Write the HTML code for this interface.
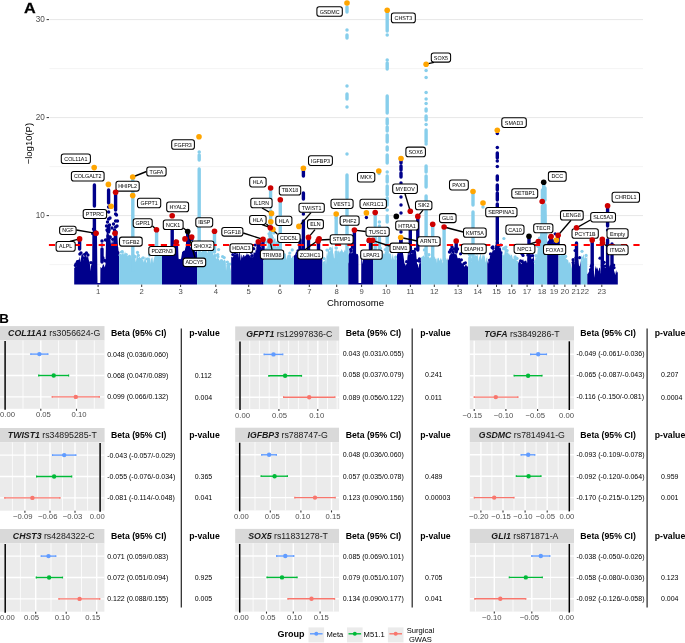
<!DOCTYPE html>
<html><head><meta charset="utf-8"><style>
html,body{margin:0;padding:0;background:#fff;width:685px;height:643px;overflow:hidden}
svg{display:block;font-family:"Liberation Sans", sans-serif}
svg{will-change:transform}
</style></head><body>
<svg width="685" height="643" viewBox="0 0 685 643">
<line x1="49.5" x2="643" y1="264.6" y2="264.6" stroke="#EDEDED" stroke-width="0.6"/>
<line x1="49.5" x2="643" y1="166.6" y2="166.6" stroke="#EDEDED" stroke-width="0.6"/>
<line x1="49.5" x2="643" y1="68.6" y2="68.6" stroke="#EDEDED" stroke-width="0.6"/>
<line x1="49.5" x2="643" y1="215.6" y2="215.6" stroke="#E4E4E4" stroke-width="0.9"/>
<line x1="46.6" x2="49" y1="215.6" y2="215.6" stroke="#333" stroke-width="1"/>
<text x="44.9" y="218.4" text-anchor="end" font-size="8.2" fill="#4D4D4D">10</text>
<line x1="49.5" x2="643" y1="117.6" y2="117.6" stroke="#E4E4E4" stroke-width="0.9"/>
<line x1="46.6" x2="49" y1="117.6" y2="117.6" stroke="#333" stroke-width="1"/>
<text x="44.9" y="120.4" text-anchor="end" font-size="8.2" fill="#4D4D4D">20</text>
<line x1="49.5" x2="643" y1="19.6" y2="19.6" stroke="#E4E4E4" stroke-width="0.9"/>
<line x1="46.6" x2="49" y1="19.6" y2="19.6" stroke="#333" stroke-width="1"/>
<text x="44.9" y="22.4" text-anchor="end" font-size="8.2" fill="#4D4D4D">30</text>
<polygon points="74.2,284.6 74.2,267.7 75.0,267.4 75.8,265.0 76.0,267.3 76.6,264.6 77.4,263.6 77.5,260.6 78.2,259.5 79.0,260.1 79.8,256.9 80.0,257.0 80.6,262.6 81.4,254.9 82.2,254.4 83.0,254.0 83.8,260.6 84.6,256.7 85.4,254.8 86.2,255.4 87.0,257.7 87.8,255.3 88.0,255.7 88.6,259.3 89.4,262.0 89.5,261.1 90.2,266.2 90.5,271.3 91.0,266.0 91.8,263.5 92.3,261.2 92.5,232.7 92.6,234.2 93.4,230.7 94.2,228.2 95.0,232.8 95.8,234.4 96.6,231.8 97.0,233.4 97.3,265.7 97.4,275.6 97.5,283.0 98.2,283.0 99.0,283.0 99.8,283.0 100.3,283.0 100.4,268.0 100.6,266.8 101.4,268.3 102.2,267.1 103.0,264.3 103.8,264.8 104.6,267.4 105.4,264.3 105.5,267.1 106.0,240.2 106.2,238.6 107.0,229.8 107.8,233.1 108.6,234.2 109.4,236.5 110.0,240.1 110.2,237.7 111.0,245.8 111.8,241.0 112.6,241.2 113.0,246.2 113.4,238.2 114.0,235.7 114.2,235.5 115.0,234.3 115.8,236.9 116.6,236.3 117.0,234.4 117.4,239.6 118.0,246.9 118.2,247.0 119.0,256.4 119.1,253.7 119.1,252.0 119.1,284.6" fill="#00008B"/>
<circle cx="75.4" cy="265.4" r="1.6" fill="#00008B"/>
<circle cx="76.0" cy="263.8" r="1.6" fill="#00008B"/>
<circle cx="76.6" cy="264.0" r="1.6" fill="#00008B"/>
<circle cx="77.4" cy="261.7" r="1.6" fill="#00008B"/>
<circle cx="79.8" cy="254.1" r="1.6" fill="#00008B"/>
<circle cx="84.6" cy="254.3" r="1.6" fill="#00008B"/>
<circle cx="88.0" cy="254.9" r="1.6" fill="#00008B"/>
<circle cx="91.0" cy="262.6" r="1.6" fill="#00008B"/>
<circle cx="92.6" cy="233.6" r="1.6" fill="#00008B"/>
<circle cx="93.4" cy="229.1" r="1.6" fill="#00008B"/>
<circle cx="95.0" cy="232.2" r="1.6" fill="#00008B"/>
<circle cx="95.0" cy="216.9" r="1.6" fill="#00008B"/>
<circle cx="95.8" cy="231.9" r="1.6" fill="#00008B"/>
<circle cx="103.0" cy="257.9" r="1.6" fill="#00008B"/>
<circle cx="104.6" cy="260.4" r="1.6" fill="#00008B"/>
<circle cx="105.4" cy="261.1" r="1.6" fill="#00008B"/>
<circle cx="107.8" cy="231.3" r="1.6" fill="#00008B"/>
<circle cx="110.0" cy="237.5" r="1.6" fill="#00008B"/>
<circle cx="110.2" cy="236.8" r="1.6" fill="#00008B"/>
<circle cx="111.0" cy="245.1" r="1.6" fill="#00008B"/>
<circle cx="112.6" cy="239.3" r="1.6" fill="#00008B"/>
<circle cx="113.0" cy="244.9" r="1.6" fill="#00008B"/>
<circle cx="114.2" cy="233.6" r="1.6" fill="#00008B"/>
<circle cx="117.9" cy="252.7" r="1.6" fill="#00008B"/>
<polygon points="119.1,284.6 119.1,256.9 119.9,256.5 120.7,254.7 121.0,253.7 121.5,255.1 122.3,253.8 123.1,251.6 123.9,254.7 124.7,251.8 125.0,255.2 125.5,251.1 126.0,255.3 126.3,255.6 127.1,256.2 127.9,255.5 128.7,257.3 129.5,257.5 130.0,257.6 130.3,256.4 131.1,256.5 131.9,259.0 132.7,257.7 133.5,256.3 134.0,257.2 134.3,258.4 135.1,257.5 135.9,262.2 136.7,256.0 137.5,255.8 138.0,256.8 138.3,257.9 139.1,257.3 139.9,256.2 140.0,258.3 140.7,258.1 141.5,257.0 142.3,259.5 143.0,259.3 143.1,259.3 143.9,262.6 144.7,257.5 145.0,256.6 145.5,257.4 146.3,263.2 147.1,260.2 147.9,257.1 148.7,257.8 149.5,258.4 150.0,256.2 150.3,264.1 151.1,257.2 151.9,259.3 152.0,263.1 152.7,256.0 153.5,263.3 154.0,256.6 154.3,258.4 155.1,254.1 155.9,252.9 156.7,256.2 157.5,258.3 158.3,254.5 159.0,257.2 159.1,257.5 159.9,258.3 160.7,257.6 161.5,254.9 162.0,256.3 162.0,257.0 162.0,284.6" fill="#87CEEB"/>
<circle cx="120.3" cy="255.3" r="1.6" fill="#87CEEB"/>
<circle cx="121.5" cy="252.0" r="1.6" fill="#87CEEB"/>
<circle cx="122.3" cy="251.7" r="1.6" fill="#87CEEB"/>
<circle cx="126.3" cy="254.5" r="1.6" fill="#87CEEB"/>
<circle cx="129.5" cy="256.4" r="1.6" fill="#87CEEB"/>
<circle cx="134.0" cy="256.1" r="1.6" fill="#87CEEB"/>
<circle cx="134.3" cy="256.4" r="1.6" fill="#87CEEB"/>
<circle cx="135.1" cy="256.8" r="1.6" fill="#87CEEB"/>
<circle cx="137.5" cy="252.4" r="1.6" fill="#87CEEB"/>
<circle cx="138.3" cy="255.3" r="1.6" fill="#87CEEB"/>
<circle cx="139.9" cy="242.8" r="1.6" fill="#87CEEB"/>
<circle cx="143.1" cy="257.8" r="1.6" fill="#87CEEB"/>
<circle cx="147.1" cy="259.0" r="1.6" fill="#87CEEB"/>
<circle cx="149.5" cy="255.1" r="1.6" fill="#87CEEB"/>
<circle cx="151.9" cy="253.5" r="1.6" fill="#87CEEB"/>
<circle cx="155.1" cy="253.4" r="1.6" fill="#87CEEB"/>
<circle cx="159.1" cy="256.3" r="1.6" fill="#87CEEB"/>
<circle cx="159.9" cy="257.6" r="1.6" fill="#87CEEB"/>
<circle cx="160.7" cy="255.4" r="1.6" fill="#87CEEB"/>
<polygon points="162.0,284.6 162.0,251.8 162.8,252.4 163.6,253.0 164.4,253.7 165.2,253.0 166.0,250.8 166.8,251.8 167.6,254.4 168.4,252.9 169.2,251.2 170.0,253.3 170.8,252.3 171.6,251.3 172.4,250.7 173.0,251.8 173.2,250.6 174.0,243.8 174.8,242.0 175.6,238.8 176.4,242.7 177.2,243.2 178.0,244.1 178.5,257.5 178.8,259.2 179.6,258.9 180.4,259.3 181.0,258.7 181.2,257.9 182.0,253.3 182.8,251.7 183.6,253.5 184.4,252.9 185.0,249.4 185.2,248.4 186.0,245.7 186.8,245.5 187.6,246.7 188.4,244.7 189.2,246.6 190.0,247.1 190.8,247.7 191.0,245.1 191.6,249.6 192.0,251.6 192.4,252.9 193.2,248.7 194.0,251.1 194.8,250.4 195.6,252.3 196.4,250.7 197.0,251.9 197.0,252.0 197.0,284.6" fill="#00008B"/>
<circle cx="163.2" cy="248.9" r="1.6" fill="#00008B"/>
<circle cx="165.2" cy="249.9" r="1.6" fill="#00008B"/>
<circle cx="166.8" cy="249.3" r="1.6" fill="#00008B"/>
<circle cx="172.4" cy="248.5" r="1.6" fill="#00008B"/>
<circle cx="173.2" cy="242.0" r="1.6" fill="#00008B"/>
<circle cx="183.6" cy="252.8" r="1.6" fill="#00008B"/>
<circle cx="184.4" cy="252.1" r="1.6" fill="#00008B"/>
<circle cx="190.0" cy="239.8" r="1.6" fill="#00008B"/>
<circle cx="192.0" cy="248.8" r="1.6" fill="#00008B"/>
<circle cx="192.0" cy="239.4" r="1.6" fill="#00008B"/>
<circle cx="192.4" cy="251.6" r="1.6" fill="#00008B"/>
<circle cx="195.6" cy="249.3" r="1.6" fill="#00008B"/>
<polygon points="197.0,284.6 197.0,256.3 197.8,253.7 198.6,255.2 199.4,252.9 200.0,253.7 200.2,254.0 201.0,252.1 201.8,251.5 202.6,249.9 203.4,250.6 204.0,247.1 204.2,250.2 205.0,251.5 205.8,248.1 206.6,251.0 207.4,253.3 208.0,249.5 208.2,248.2 209.0,249.2 209.8,251.9 210.6,248.9 211.4,248.7 212.0,249.8 212.2,249.4 213.0,252.7 213.8,255.7 214.0,253.0 214.6,254.1 215.4,256.1 216.2,258.5 217.0,258.5 217.8,256.4 218.0,258.8 218.6,258.0 219.4,260.7 220.2,259.5 221.0,259.2 221.8,259.1 222.0,259.6 222.6,259.2 223.4,260.9 224.2,259.4 225.0,260.0 225.8,261.6 226.0,271.0 226.6,264.1 227.4,264.9 228.2,265.6 229.0,262.5 229.8,264.1 230.6,271.0 231.2,265.4 231.2,265.0 231.2,284.6" fill="#87CEEB"/>
<circle cx="198.6" cy="227.5" r="1.6" fill="#87CEEB"/>
<circle cx="204.0" cy="245.4" r="1.6" fill="#87CEEB"/>
<circle cx="215.4" cy="255.5" r="1.6" fill="#87CEEB"/>
<circle cx="217.8" cy="254.5" r="1.6" fill="#87CEEB"/>
<circle cx="218.0" cy="256.7" r="1.6" fill="#87CEEB"/>
<circle cx="218.6" cy="249.6" r="1.6" fill="#87CEEB"/>
<circle cx="222.6" cy="256.6" r="1.6" fill="#87CEEB"/>
<circle cx="224.2" cy="257.6" r="1.6" fill="#87CEEB"/>
<circle cx="227.4" cy="262.0" r="1.6" fill="#87CEEB"/>
<circle cx="228.2" cy="264.3" r="1.6" fill="#87CEEB"/>
<circle cx="230.0" cy="264.0" r="1.6" fill="#87CEEB"/>
<polygon points="231.2,284.6 231.2,257.3 232.0,256.6 232.8,257.8 233.6,254.9 234.4,254.5 235.0,253.8 235.2,254.2 236.0,254.5 236.8,253.5 237.6,253.3 238.4,253.6 239.0,258.0 239.2,249.3 240.0,253.0 240.8,260.7 241.6,254.2 242.4,256.7 243.0,257.9 243.2,255.1 244.0,254.9 244.8,256.8 245.6,255.5 246.4,255.1 247.0,252.6 247.2,253.7 248.0,255.3 248.8,254.0 249.6,255.9 250.4,255.1 251.0,257.8 251.2,255.8 252.0,257.4 252.8,260.2 253.6,252.2 254.0,252.4 254.4,252.5 255.2,253.0 256.0,247.7 256.8,250.3 257.6,251.7 258.0,249.9 258.4,248.8 259.2,250.7 260.0,247.0 260.8,246.0 261.6,249.3 262.4,250.7 263.2,251.0 263.4,248.4 263.4,249.0 263.4,284.6" fill="#00008B"/>
<circle cx="232.8" cy="254.6" r="1.6" fill="#00008B"/>
<circle cx="235.2" cy="253.0" r="1.6" fill="#00008B"/>
<circle cx="245.6" cy="247.2" r="1.6" fill="#00008B"/>
<circle cx="248.8" cy="250.0" r="1.6" fill="#00008B"/>
<circle cx="251.2" cy="252.3" r="1.6" fill="#00008B"/>
<circle cx="251.2" cy="249.4" r="1.6" fill="#00008B"/>
<circle cx="252.0" cy="255.6" r="1.6" fill="#00008B"/>
<circle cx="252.8" cy="258.5" r="1.6" fill="#00008B"/>
<circle cx="253.6" cy="248.7" r="1.6" fill="#00008B"/>
<circle cx="255.2" cy="245.0" r="1.6" fill="#00008B"/>
<circle cx="258.0" cy="247.7" r="1.6" fill="#00008B"/>
<circle cx="260.0" cy="244.5" r="1.6" fill="#00008B"/>
<circle cx="260.8" cy="244.8" r="1.6" fill="#00008B"/>
<circle cx="262.2" cy="249.5" r="1.6" fill="#00008B"/>
<polygon points="263.4,284.6 263.4,262.0 264.2,261.2 265.0,255.1 265.8,253.6 266.0,254.0 266.6,250.0 267.4,246.8 268.2,242.1 268.5,240.0 269.0,235.4 269.8,237.6 270.6,239.2 271.4,238.2 272.2,239.3 273.0,241.3 273.8,237.8 274.6,238.8 275.4,238.4 275.5,238.8 276.0,247.0 276.2,247.9 277.0,244.9 277.8,248.8 278.6,246.0 279.4,247.2 280.2,247.6 281.0,246.9 281.8,253.9 282.0,253.1 282.6,254.2 283.4,253.9 284.2,255.3 285.0,254.1 285.8,254.4 286.6,260.1 287.4,255.3 288.0,257.5 288.2,256.2 289.0,257.7 289.8,255.2 290.6,255.0 291.0,256.1 291.4,261.1 292.2,255.8 293.0,257.3 293.8,257.5 294.0,260.4 294.0,258.0 294.0,284.6" fill="#87CEEB"/>
<circle cx="264.6" cy="261.1" r="1.6" fill="#87CEEB"/>
<circle cx="266.6" cy="249.4" r="1.6" fill="#87CEEB"/>
<circle cx="266.6" cy="242.2" r="1.6" fill="#87CEEB"/>
<circle cx="268.2" cy="239.5" r="1.6" fill="#87CEEB"/>
<circle cx="269.0" cy="233.8" r="1.6" fill="#87CEEB"/>
<circle cx="269.8" cy="235.9" r="1.6" fill="#87CEEB"/>
<circle cx="271.4" cy="235.9" r="1.6" fill="#87CEEB"/>
<circle cx="272.2" cy="237.6" r="1.6" fill="#87CEEB"/>
<circle cx="273.8" cy="232.9" r="1.6" fill="#87CEEB"/>
<circle cx="277.0" cy="242.8" r="1.6" fill="#87CEEB"/>
<circle cx="277.8" cy="247.7" r="1.6" fill="#87CEEB"/>
<circle cx="278.6" cy="243.8" r="1.6" fill="#87CEEB"/>
<circle cx="284.2" cy="254.6" r="1.6" fill="#87CEEB"/>
<circle cx="289.0" cy="256.1" r="1.6" fill="#87CEEB"/>
<circle cx="289.8" cy="253.0" r="1.6" fill="#87CEEB"/>
<circle cx="291.4" cy="259.7" r="1.6" fill="#87CEEB"/>
<circle cx="292.2" cy="249.9" r="1.6" fill="#87CEEB"/>
<polygon points="294.0,284.6 294.0,257.7 294.8,255.1 295.6,253.8 296.4,254.4 297.2,253.9 298.0,252.8 298.8,255.6 299.6,253.3 300.4,252.4 301.2,252.7 302.0,250.6 302.8,253.7 303.6,258.6 304.4,254.0 305.2,254.4 306.0,253.1 306.8,251.8 307.6,253.4 308.4,254.7 309.2,253.6 310.0,255.5 310.8,253.1 311.6,259.5 312.4,253.9 313.2,253.7 314.0,254.4 314.8,254.6 315.6,254.2 316.4,256.0 317.2,256.0 318.0,255.5 318.8,256.6 319.6,255.8 320.4,256.7 321.2,257.3 322.0,259.3 322.4,259.5 322.4,257.0 322.4,284.6" fill="#00008B"/>
<circle cx="295.2" cy="256.7" r="1.6" fill="#00008B"/>
<circle cx="297.2" cy="253.2" r="1.6" fill="#00008B"/>
<circle cx="298.0" cy="250.9" r="1.6" fill="#00008B"/>
<circle cx="299.6" cy="251.1" r="1.6" fill="#00008B"/>
<circle cx="302.0" cy="249.8" r="1.6" fill="#00008B"/>
<circle cx="303.6" cy="256.5" r="1.6" fill="#00008B"/>
<circle cx="309.2" cy="252.1" r="1.6" fill="#00008B"/>
<circle cx="310.8" cy="251.6" r="1.6" fill="#00008B"/>
<circle cx="320.4" cy="254.3" r="1.6" fill="#00008B"/>
<polygon points="322.4,284.6 322.4,259.5 323.2,261.8 324.0,261.6 324.8,260.4 325.6,257.5 326.0,264.9 326.4,256.7 327.0,251.7 327.2,256.3 328.0,250.1 328.8,248.8 329.6,252.0 330.4,250.2 331.2,249.6 332.0,249.0 332.8,245.1 333.0,252.5 333.6,254.5 334.0,258.2 334.4,258.4 335.2,257.0 336.0,257.0 336.8,259.3 337.0,257.3 337.6,255.7 338.0,250.5 338.4,250.4 339.2,252.7 340.0,250.6 340.8,251.7 341.6,249.0 342.4,250.6 343.2,252.5 344.0,251.8 344.8,249.6 345.6,251.0 346.0,251.1 346.4,248.9 347.2,256.9 348.0,255.6 348.3,256.6 348.3,258.0 348.3,284.6" fill="#87CEEB"/>
<circle cx="324.0" cy="258.5" r="1.6" fill="#87CEEB"/>
<circle cx="327.0" cy="250.1" r="1.6" fill="#87CEEB"/>
<circle cx="330.4" cy="248.7" r="1.6" fill="#87CEEB"/>
<circle cx="337.0" cy="255.5" r="1.6" fill="#87CEEB"/>
<polygon points="348.3,284.6 348.3,254.9 349.1,253.8 349.9,251.6 350.7,251.2 351.0,253.9 351.5,252.1 352.3,253.1 353.0,251.4 353.1,248.7 353.9,252.5 354.7,250.1 355.5,252.8 356.0,252.5 356.3,254.0 357.1,254.2 357.9,253.9 358.4,256.7 358.5,283.0 358.7,283.0 359.5,283.0 360.3,283.0 361.1,283.0 361.2,283.0 361.3,255.4 361.9,257.8 362.7,264.2 363.5,255.3 364.0,255.5 364.3,257.6 365.1,255.8 365.9,251.9 366.7,252.1 367.5,250.2 368.0,251.7 368.3,259.3 369.1,252.5 369.9,257.9 370.7,251.9 371.5,257.2 372.0,248.4 372.3,252.3 373.1,254.4 373.3,260.7 373.3,256.0 373.3,284.6" fill="#00008B"/>
<circle cx="350.7" cy="249.3" r="1.6" fill="#00008B"/>
<circle cx="351.0" cy="250.9" r="1.6" fill="#00008B"/>
<circle cx="352.3" cy="246.9" r="1.6" fill="#00008B"/>
<circle cx="353.1" cy="247.3" r="1.6" fill="#00008B"/>
<circle cx="353.9" cy="250.7" r="1.6" fill="#00008B"/>
<circle cx="361.9" cy="256.1" r="1.6" fill="#00008B"/>
<circle cx="368.3" cy="241.4" r="1.6" fill="#00008B"/>
<circle cx="370.7" cy="250.5" r="1.6" fill="#00008B"/>
<polygon points="373.3,284.6 373.3,258.3 374.1,255.7 374.9,255.3 375.7,255.8 376.5,256.1 377.0,256.3 377.3,255.8 378.1,255.0 378.9,255.7 379.7,255.4 380.5,251.0 381.0,254.8 381.3,253.7 382.1,254.8 382.9,254.4 383.7,252.9 384.5,254.3 385.0,250.6 385.3,251.6 386.1,251.9 386.9,254.4 387.7,254.1 388.5,254.5 389.0,253.0 389.3,253.1 390.1,254.3 390.9,252.9 391.7,259.9 392.5,254.5 393.0,253.8 393.3,257.1 394.1,260.2 394.9,255.7 395.7,255.8 396.5,258.4 397.0,260.3 397.0,258.0 397.0,284.6" fill="#87CEEB"/>
<circle cx="380.5" cy="248.4" r="1.6" fill="#87CEEB"/>
<circle cx="381.0" cy="251.5" r="1.6" fill="#87CEEB"/>
<circle cx="385.3" cy="249.6" r="1.6" fill="#87CEEB"/>
<circle cx="393.0" cy="251.6" r="1.6" fill="#87CEEB"/>
<circle cx="395.8" cy="257.0" r="1.6" fill="#87CEEB"/>
<polygon points="397.0,284.6 397.0,254.9 397.8,252.6 398.6,248.6 399.0,254.4 399.4,250.3 400.2,250.7 401.0,250.8 401.8,247.6 402.0,249.6 402.6,251.4 403.4,255.5 404.2,261.3 404.5,263.5 405.0,263.7 405.8,265.7 406.6,263.5 407.0,263.9 407.4,257.8 408.0,252.7 408.2,252.3 409.0,255.4 409.8,251.8 410.6,251.5 411.0,248.0 411.4,254.0 412.2,252.7 413.0,253.5 413.8,251.5 414.6,247.2 415.4,250.5 416.0,251.7 416.2,254.1 417.0,263.4 417.8,264.6 418.6,268.2 419.4,262.6 420.0,264.0 420.2,262.9 421.0,259.7 421.2,257.4 421.2,258.0 421.2,284.6" fill="#00008B"/>
<circle cx="398.2" cy="246.6" r="1.6" fill="#00008B"/>
<circle cx="399.0" cy="245.8" r="1.6" fill="#00008B"/>
<circle cx="400.2" cy="250.0" r="1.6" fill="#00008B"/>
<circle cx="406.6" cy="261.7" r="1.6" fill="#00008B"/>
<circle cx="409.0" cy="252.1" r="1.6" fill="#00008B"/>
<circle cx="410.6" cy="248.8" r="1.6" fill="#00008B"/>
<circle cx="412.2" cy="251.7" r="1.6" fill="#00008B"/>
<circle cx="413.0" cy="251.4" r="1.6" fill="#00008B"/>
<circle cx="415.4" cy="249.0" r="1.6" fill="#00008B"/>
<circle cx="417.0" cy="260.6" r="1.6" fill="#00008B"/>
<circle cx="419.4" cy="261.2" r="1.6" fill="#00008B"/>
<circle cx="419.4" cy="258.9" r="1.6" fill="#00008B"/>
<polygon points="421.2,284.6 421.2,257.2 422.0,256.8 422.8,256.3 423.6,255.3 424.4,256.9 425.0,256.8 425.2,253.5 426.0,256.3 426.8,257.7 427.6,256.2 428.4,256.4 429.0,255.9 429.2,258.4 430.0,257.3 430.8,257.8 431.6,254.6 432.4,256.9 433.0,254.8 433.2,258.1 434.0,258.0 434.8,256.2 435.6,259.3 436.4,258.2 437.0,263.3 437.2,259.3 438.0,257.5 438.8,258.3 439.6,261.0 440.4,258.7 441.0,257.6 441.2,260.4 442.0,258.2 442.8,263.6 443.6,258.5 444.4,257.1 445.0,258.7 445.2,257.6 446.0,258.0 446.8,260.0 447.6,259.6 447.8,260.3 447.8,260.0 447.8,284.6" fill="#87CEEB"/>
<circle cx="424.4" cy="249.9" r="1.6" fill="#87CEEB"/>
<circle cx="426.0" cy="253.4" r="1.6" fill="#87CEEB"/>
<circle cx="429.0" cy="254.7" r="1.6" fill="#87CEEB"/>
<polygon points="447.8,284.6 447.8,258.3 448.6,260.6 449.4,255.3 450.2,255.0 451.0,252.0 451.8,253.4 452.6,253.9 453.4,250.3 454.2,253.1 455.0,254.3 455.8,254.1 456.6,254.3 457.4,257.4 458.0,258.4 458.2,257.7 459.0,258.5 459.8,257.8 460.6,259.3 461.0,259.5 461.4,263.0 462.2,263.4 463.0,264.0 463.8,263.2 464.0,266.4 464.6,266.6 465.4,265.2 466.2,264.7 467.0,266.4 467.8,266.6 468.1,264.8 468.1,266.0 468.1,284.6" fill="#00008B"/>
<circle cx="451.0" cy="250.1" r="1.6" fill="#00008B"/>
<circle cx="451.0" cy="249.6" r="1.6" fill="#00008B"/>
<circle cx="451.8" cy="250.0" r="1.6" fill="#00008B"/>
<circle cx="460.6" cy="253.8" r="1.6" fill="#00008B"/>
<circle cx="461.4" cy="259.8" r="1.6" fill="#00008B"/>
<circle cx="464.0" cy="263.6" r="1.6" fill="#00008B"/>
<circle cx="465.4" cy="262.8" r="1.6" fill="#00008B"/>
<polygon points="468.1,284.6 468.1,257.8 468.9,256.2 469.7,254.9 470.5,254.0 471.3,253.9 472.0,262.2 472.1,256.0 472.9,255.7 473.7,253.4 474.5,256.4 475.3,255.8 476.0,253.9 476.1,256.0 476.9,255.6 477.7,255.1 478.5,261.5 479.3,256.8 480.0,256.2 480.1,254.6 480.9,254.3 481.7,259.7 482.5,254.8 483.3,255.7 484.0,254.5 484.1,254.5 484.9,256.9 485.7,262.7 486.5,258.1 487.3,257.3 487.3,257.0 487.3,284.6" fill="#87CEEB"/>
<circle cx="469.3" cy="254.6" r="1.6" fill="#87CEEB"/>
<circle cx="470.5" cy="253.2" r="1.6" fill="#87CEEB"/>
<circle cx="472.0" cy="259.6" r="1.6" fill="#87CEEB"/>
<circle cx="472.1" cy="254.1" r="1.6" fill="#87CEEB"/>
<circle cx="476.9" cy="253.0" r="1.6" fill="#87CEEB"/>
<circle cx="484.9" cy="250.0" r="1.6" fill="#87CEEB"/>
<polygon points="487.3,284.6 487.3,260.5 488.1,263.8 488.9,258.8 489.7,261.7 490.0,252.9 490.5,255.8 491.3,252.8 492.1,252.6 492.9,249.6 493.0,250.7 493.7,250.0 494.5,252.3 495.0,248.3 495.3,245.2 496.1,244.7 496.9,245.5 497.7,248.4 498.5,247.2 499.0,247.9 499.3,247.6 500.1,246.9 500.9,248.5 501.0,249.1 501.7,253.7 502.3,255.5 502.3,256.0 502.3,284.6" fill="#00008B"/>
<circle cx="489.7" cy="260.1" r="1.6" fill="#00008B"/>
<circle cx="490.5" cy="253.9" r="1.6" fill="#00008B"/>
<circle cx="492.1" cy="247.6" r="1.6" fill="#00008B"/>
<circle cx="492.9" cy="246.8" r="1.6" fill="#00008B"/>
<circle cx="493.0" cy="248.3" r="1.6" fill="#00008B"/>
<circle cx="494.5" cy="251.7" r="1.6" fill="#00008B"/>
<circle cx="498.5" cy="246.1" r="1.6" fill="#00008B"/>
<circle cx="500.9" cy="245.0" r="1.6" fill="#00008B"/>
<circle cx="501.1" cy="252.8" r="1.6" fill="#00008B"/>
<polygon points="502.3,284.6 502.3,250.6 503.1,253.5 503.9,257.4 504.7,250.8 505.5,250.6 506.0,248.0 506.3,251.2 507.1,252.9 507.9,251.5 508.7,254.0 509.5,255.1 510.0,252.7 510.3,255.9 511.1,254.9 511.9,254.4 512.7,258.4 513.5,259.1 514.0,256.1 514.3,256.7 515.1,258.7 515.9,257.9 516.7,260.8 517.5,261.0 518.2,261.1 518.2,260.0 518.2,284.6" fill="#87CEEB"/>
<circle cx="503.5" cy="248.7" r="1.6" fill="#87CEEB"/>
<circle cx="503.9" cy="256.8" r="1.6" fill="#87CEEB"/>
<circle cx="503.9" cy="238.5" r="1.6" fill="#87CEEB"/>
<circle cx="504.7" cy="247.8" r="1.6" fill="#87CEEB"/>
<circle cx="505.5" cy="249.3" r="1.6" fill="#87CEEB"/>
<circle cx="506.0" cy="247.0" r="1.6" fill="#87CEEB"/>
<circle cx="507.1" cy="250.6" r="1.6" fill="#87CEEB"/>
<circle cx="515.1" cy="256.9" r="1.6" fill="#87CEEB"/>
<circle cx="516.7" cy="258.7" r="1.6" fill="#87CEEB"/>
<circle cx="517.0" cy="258.4" r="1.6" fill="#87CEEB"/>
<polygon points="518.2,284.6 518.2,263.4 519.0,261.3 519.8,261.5 520.6,263.1 521.4,264.2 522.0,262.4 522.2,261.2 523.0,258.7 523.8,262.0 524.6,261.1 525.4,260.6 526.0,261.0 526.2,260.5 527.0,263.2 527.8,257.3 528.6,260.0 529.4,259.9 530.0,258.1 530.2,256.8 531.0,257.6 531.8,259.2 532.6,258.6 533.4,254.9 534.1,259.4 534.1,260.0 534.1,284.6" fill="#00008B"/>
<circle cx="520.6" cy="260.8" r="1.6" fill="#00008B"/>
<circle cx="522.0" cy="261.6" r="1.6" fill="#00008B"/>
<circle cx="522.0" cy="253.9" r="1.6" fill="#00008B"/>
<circle cx="523.0" cy="255.4" r="1.6" fill="#00008B"/>
<circle cx="527.8" cy="255.0" r="1.6" fill="#00008B"/>
<circle cx="531.0" cy="255.8" r="1.6" fill="#00008B"/>
<circle cx="532.6" cy="255.5" r="1.6" fill="#00008B"/>
<polygon points="534.1,284.6 534.1,264.6 534.9,263.1 535.7,255.0 536.0,258.2 536.5,256.8 537.3,254.2 538.0,246.8 538.1,249.1 538.9,244.2 539.5,239.0 539.7,238.7 540.5,230.4 541.3,218.5 541.5,217.0 542.1,215.0 542.9,214.9 543.7,216.2 544.5,214.5 545.3,217.2 546.1,210.8 546.5,216.5 546.9,231.4 547.0,236.4 547.2,244.3 547.2,245.0 547.2,284.6" fill="#87CEEB"/>
<circle cx="535.3" cy="261.7" r="1.6" fill="#87CEEB"/>
<circle cx="536.0" cy="255.7" r="1.6" fill="#87CEEB"/>
<circle cx="537.3" cy="245.6" r="1.6" fill="#87CEEB"/>
<circle cx="538.1" cy="246.4" r="1.6" fill="#87CEEB"/>
<circle cx="539.5" cy="238.0" r="1.6" fill="#87CEEB"/>
<circle cx="546.0" cy="230.0" r="1.6" fill="#87CEEB"/>
<circle cx="546.0" cy="234.0" r="1.6" fill="#87CEEB"/>
<circle cx="546.0" cy="243.5" r="1.6" fill="#87CEEB"/>
<polygon points="547.2,284.6 547.2,242.6 548.0,240.9 548.8,240.4 549.0,239.0 549.6,238.9 550.4,240.8 551.2,241.1 552.0,239.1 552.8,241.4 553.0,241.8 553.6,242.5 554.4,241.2 555.2,242.6 556.0,240.9 556.8,243.4 557.6,243.9 558.4,241.5 558.5,253.8 558.5,245.0 558.5,284.6" fill="#00008B"/>
<circle cx="549.6" cy="237.2" r="1.6" fill="#00008B"/>
<circle cx="553.0" cy="240.9" r="1.6" fill="#00008B"/>
<circle cx="555.2" cy="233.8" r="1.6" fill="#00008B"/>
<polygon points="558.5,284.6 558.5,256.4 559.3,253.3 560.1,256.1 560.9,253.5 561.7,254.2 562.0,254.3 562.5,255.3 563.3,253.9 564.1,254.7 564.9,255.9 565.7,256.9 566.0,259.4 566.5,258.4 567.3,259.8 568.1,260.0 568.9,263.8 569.7,261.7 570.5,263.6 571.3,266.4 571.9,268.8 571.9,265.0 571.9,284.6" fill="#87CEEB"/>
<circle cx="559.7" cy="253.6" r="1.6" fill="#87CEEB"/>
<circle cx="559.7" cy="252.3" r="1.6" fill="#87CEEB"/>
<circle cx="562.5" cy="254.6" r="1.6" fill="#87CEEB"/>
<circle cx="563.3" cy="252.2" r="1.6" fill="#87CEEB"/>
<circle cx="565.7" cy="256.4" r="1.6" fill="#87CEEB"/>
<polygon points="571.9,284.6 571.9,263.8 572.7,260.4 573.5,260.0 574.3,264.4 575.0,256.7 575.1,253.7 575.9,258.6 576.7,258.5 577.5,259.7 578.0,259.2 578.3,259.0 579.1,266.5 579.9,265.6 580.7,260.9 580.8,261.7 580.8,262.0 580.8,284.6" fill="#00008B"/>
<circle cx="573.1" cy="262.5" r="1.6" fill="#00008B"/>
<circle cx="573.1" cy="259.7" r="1.6" fill="#00008B"/>
<circle cx="575.1" cy="250.5" r="1.6" fill="#00008B"/>
<circle cx="575.9" cy="257.8" r="1.6" fill="#00008B"/>
<circle cx="579.6" cy="257.7" r="1.6" fill="#00008B"/>
<polygon points="580.8,284.6 580.8,259.0 581.6,254.6 582.4,261.3 583.2,254.0 584.0,256.1 584.8,258.7 585.6,256.4 586.4,258.4 587.2,256.5 587.3,256.7 587.3,258.0 587.3,284.6" fill="#87CEEB"/>
<circle cx="582.0" cy="251.3" r="1.6" fill="#87CEEB"/>
<circle cx="582.4" cy="258.1" r="1.6" fill="#87CEEB"/>
<circle cx="586.1" cy="255.4" r="1.6" fill="#87CEEB"/>
<polygon points="587.3,284.6 587.3,274.1 588.1,273.5 588.9,271.8 589.7,270.6 590.5,270.9 591.0,270.2 591.3,268.9 592.1,267.2 592.9,271.4 593.7,270.6 594.5,277.7 595.0,270.3 595.3,265.5 596.1,269.3 596.9,267.1 597.7,268.8 598.5,271.6 599.3,267.5 600.0,268.5 600.1,268.0 600.9,273.7 601.7,268.3 602.5,267.1 603.3,267.4 604.1,264.6 604.9,267.8 605.0,267.4 605.7,268.0 606.5,265.9 607.3,268.2 608.1,267.6 608.9,268.1 609.7,266.2 610.0,265.5 610.5,264.4 611.3,266.3 612.1,269.7 612.9,268.1 613.7,268.4 614.0,270.6 614.5,272.0 615.3,275.1 616.1,270.1 616.9,273.1 617.7,271.6 617.8,273.6 617.8,272.0 617.8,284.6" fill="#00008B"/>
<circle cx="590.5" cy="269.7" r="1.6" fill="#00008B"/>
<circle cx="591.3" cy="266.2" r="1.6" fill="#00008B"/>
<circle cx="592.1" cy="264.5" r="1.6" fill="#00008B"/>
<circle cx="600.0" cy="258.2" r="1.6" fill="#00008B"/>
<circle cx="602.5" cy="265.6" r="1.6" fill="#00008B"/>
<circle cx="604.1" cy="262.3" r="1.6" fill="#00008B"/>
<circle cx="605.0" cy="266.0" r="1.6" fill="#00008B"/>
<circle cx="608.1" cy="266.7" r="1.6" fill="#00008B"/>
<circle cx="613.7" cy="265.1" r="1.6" fill="#00008B"/>
<circle cx="614.0" cy="267.7" r="1.6" fill="#00008B"/>
<line x1="94.4" x2="94.4" y1="185" y2="206" stroke="#00008B" stroke-width="3.4" stroke-linecap="round"/>
<line x1="94.4" x2="94.4" y1="212" y2="282" stroke="#00008B" stroke-width="3.4" stroke-linecap="round"/>
<line x1="108.6" x2="108.6" y1="190" y2="203" stroke="#00008B" stroke-width="3.4" stroke-linecap="round"/>
<circle cx="108.6" cy="207" r="1.75" fill="#00008B"/>
<circle cx="108.6" cy="212" r="1.75" fill="#00008B"/>
<circle cx="108.6" cy="219" r="1.75" fill="#00008B"/>
<line x1="108.6" x2="108.6" y1="226" y2="232" stroke="#00008B" stroke-width="3.4" stroke-linecap="round"/>
<line x1="108.6" x2="108.6" y1="238" y2="250" stroke="#00008B" stroke-width="3.4" stroke-linecap="round"/>
<line x1="115.6" x2="115.6" y1="192" y2="210" stroke="#00008B" stroke-width="3.4" stroke-linecap="round"/>
<circle cx="115.6" cy="214" r="1.75" fill="#00008B"/>
<circle cx="115.6" cy="221" r="1.75" fill="#00008B"/>
<circle cx="115.6" cy="227" r="1.75" fill="#00008B"/>
<line x1="115.6" x2="115.6" y1="232" y2="250" stroke="#00008B" stroke-width="3.4" stroke-linecap="round"/>
<circle cx="102.0" cy="241" r="1.75" fill="#00008B"/>
<circle cx="102.0" cy="245" r="1.75" fill="#00008B"/>
<line x1="102.0" x2="102.0" y1="249" y2="262" stroke="#00008B" stroke-width="3.4" stroke-linecap="round"/>
<line x1="79.6" x2="79.6" y1="241" y2="249" stroke="#00008B" stroke-width="3.4" stroke-linecap="round"/>
<line x1="132.8" x2="132.8" y1="177" y2="270" stroke="#87CEEB" stroke-width="3.4" stroke-linecap="round"/>
<line x1="156.6" x2="156.6" y1="230" y2="262" stroke="#87CEEB" stroke-width="3.4" stroke-linecap="round"/>
<line x1="172.2" x2="172.2" y1="229" y2="258" stroke="#00008B" stroke-width="3.4" stroke-linecap="round"/>
<line x1="187.7" x2="187.7" y1="232" y2="256" stroke="#00008B" stroke-width="3.4" stroke-linecap="round"/>
<line x1="188.5" x2="188.5" y1="240" y2="256" stroke="#00008B" stroke-width="3.4" stroke-linecap="round"/>
<circle cx="199.2" cy="152" r="1.75" fill="#87CEEB"/>
<line x1="199.2" x2="199.2" y1="155" y2="160" stroke="#87CEEB" stroke-width="3.4" stroke-linecap="round"/>
<line x1="199.2" x2="199.2" y1="169" y2="270" stroke="#87CEEB" stroke-width="3.4" stroke-linecap="round"/>
<line x1="214.5" x2="214.5" y1="231" y2="252" stroke="#87CEEB" stroke-width="3.4" stroke-linecap="round"/>
<line x1="258.3" x2="258.3" y1="242" y2="258" stroke="#00008B" stroke-width="3.4" stroke-linecap="round"/>
<line x1="263.0" x2="263.0" y1="240" y2="258" stroke="#00008B" stroke-width="3.4" stroke-linecap="round"/>
<line x1="270.6" x2="270.6" y1="188" y2="200" stroke="#87CEEB" stroke-width="3.4" stroke-linecap="round"/>
<circle cx="270.6" cy="203" r="1.75" fill="#87CEEB"/>
<circle cx="270.6" cy="207" r="1.75" fill="#87CEEB"/>
<circle cx="270.6" cy="211" r="1.75" fill="#87CEEB"/>
<line x1="270.6" x2="270.6" y1="215" y2="258" stroke="#87CEEB" stroke-width="3.4" stroke-linecap="round"/>
<line x1="280.3" x2="280.3" y1="200" y2="258" stroke="#87CEEB" stroke-width="3.4" stroke-linecap="round"/>
<line x1="303.4" x2="303.4" y1="168" y2="176" stroke="#00008B" stroke-width="3.4" stroke-linecap="round"/>
<line x1="303.4" x2="303.4" y1="193" y2="199" stroke="#00008B" stroke-width="3.4" stroke-linecap="round"/>
<circle cx="303.4" cy="214" r="1.75" fill="#00008B"/>
<line x1="303.4" x2="303.4" y1="221" y2="256" stroke="#00008B" stroke-width="3.4" stroke-linecap="round"/>
<line x1="300.0" x2="300.0" y1="240" y2="256" stroke="#00008B" stroke-width="3.4" stroke-linecap="round"/>
<line x1="308.5" x2="308.5" y1="238" y2="256" stroke="#00008B" stroke-width="3.4" stroke-linecap="round"/>
<line x1="318.5" x2="318.5" y1="239" y2="256" stroke="#00008B" stroke-width="3.4" stroke-linecap="round"/>
<line x1="336.2" x2="336.2" y1="214" y2="240" stroke="#87CEEB" stroke-width="3.4" stroke-linecap="round"/>
<circle cx="336.2" cy="244" r="1.75" fill="#87CEEB"/>
<circle cx="336.2" cy="248" r="1.75" fill="#87CEEB"/>
<line x1="336.2" x2="336.2" y1="252" y2="262" stroke="#87CEEB" stroke-width="3.4" stroke-linecap="round"/>
<circle cx="347.0" cy="3" r="1.75" fill="#87CEEB"/>
<line x1="347.0" x2="347.0" y1="7" y2="12" stroke="#87CEEB" stroke-width="3.4" stroke-linecap="round"/>
<circle cx="347.0" cy="30" r="1.75" fill="#87CEEB"/>
<line x1="347.0" x2="347.0" y1="35" y2="38" stroke="#87CEEB" stroke-width="3.4" stroke-linecap="round"/>
<circle cx="347.0" cy="86" r="1.75" fill="#87CEEB"/>
<line x1="347.0" x2="347.0" y1="94" y2="99" stroke="#87CEEB" stroke-width="3.4" stroke-linecap="round"/>
<circle cx="347.0" cy="107" r="1.75" fill="#87CEEB"/>
<circle cx="347.0" cy="154" r="1.75" fill="#87CEEB"/>
<line x1="347.0" x2="347.0" y1="175" y2="198" stroke="#87CEEB" stroke-width="3.4" stroke-linecap="round"/>
<line x1="347.0" x2="347.0" y1="205" y2="215" stroke="#87CEEB" stroke-width="3.4" stroke-linecap="round"/>
<line x1="347.0" x2="347.0" y1="219" y2="236" stroke="#87CEEB" stroke-width="3.4" stroke-linecap="round"/>
<line x1="347.0" x2="347.0" y1="240" y2="262" stroke="#87CEEB" stroke-width="3.4" stroke-linecap="round"/>
<line x1="354.4" x2="354.4" y1="230" y2="262" stroke="#00008B" stroke-width="3.4" stroke-linecap="round"/>
<line x1="370.5" x2="370.5" y1="240" y2="256" stroke="#00008B" stroke-width="3.4" stroke-linecap="round"/>
<line x1="375.2" x2="375.2" y1="215" y2="226" stroke="#87CEEB" stroke-width="3.4" stroke-linecap="round"/>
<line x1="375.2" x2="375.2" y1="234" y2="260" stroke="#87CEEB" stroke-width="3.4" stroke-linecap="round"/>
<circle cx="379.4" cy="222" r="1.75" fill="#87CEEB"/>
<line x1="379.4" x2="379.4" y1="226" y2="232" stroke="#87CEEB" stroke-width="3.4" stroke-linecap="round"/>
<line x1="379.4" x2="379.4" y1="238" y2="258" stroke="#87CEEB" stroke-width="3.4" stroke-linecap="round"/>
<line x1="387.2" x2="387.2" y1="12" y2="31" stroke="#87CEEB" stroke-width="3.4" stroke-linecap="round"/>
<circle cx="387.2" cy="35" r="1.75" fill="#87CEEB"/>
<circle cx="387.2" cy="60" r="1.75" fill="#87CEEB"/>
<line x1="387.2" x2="387.2" y1="63" y2="69" stroke="#87CEEB" stroke-width="3.4" stroke-linecap="round"/>
<line x1="387.2" x2="387.2" y1="96" y2="113" stroke="#87CEEB" stroke-width="3.4" stroke-linecap="round"/>
<line x1="387.2" x2="387.2" y1="119" y2="124" stroke="#87CEEB" stroke-width="3.4" stroke-linecap="round"/>
<line x1="387.2" x2="387.2" y1="127" y2="131" stroke="#87CEEB" stroke-width="3.4" stroke-linecap="round"/>
<line x1="387.2" x2="387.2" y1="135" y2="142" stroke="#87CEEB" stroke-width="3.4" stroke-linecap="round"/>
<line x1="387.2" x2="387.2" y1="147" y2="150" stroke="#87CEEB" stroke-width="3.4" stroke-linecap="round"/>
<line x1="387.2" x2="387.2" y1="155" y2="163" stroke="#87CEEB" stroke-width="3.4" stroke-linecap="round"/>
<circle cx="387.2" cy="172" r="1.75" fill="#87CEEB"/>
<line x1="387.2" x2="387.2" y1="176" y2="182" stroke="#87CEEB" stroke-width="3.4" stroke-linecap="round"/>
<line x1="387.2" x2="387.2" y1="186" y2="195" stroke="#87CEEB" stroke-width="3.4" stroke-linecap="round"/>
<line x1="387.2" x2="387.2" y1="198" y2="205" stroke="#87CEEB" stroke-width="3.4" stroke-linecap="round"/>
<circle cx="387.2" cy="210" r="1.75" fill="#87CEEB"/>
<line x1="387.2" x2="387.2" y1="216" y2="222" stroke="#87CEEB" stroke-width="3.4" stroke-linecap="round"/>
<circle cx="387.2" cy="228" r="1.75" fill="#87CEEB"/>
<line x1="387.2" x2="387.2" y1="236" y2="258" stroke="#87CEEB" stroke-width="3.4" stroke-linecap="round"/>
<line x1="401.0" x2="401.0" y1="158" y2="163" stroke="#00008B" stroke-width="3.4" stroke-linecap="round"/>
<line x1="401.0" x2="401.0" y1="166" y2="170" stroke="#00008B" stroke-width="3.4" stroke-linecap="round"/>
<line x1="401.0" x2="401.0" y1="173" y2="177" stroke="#00008B" stroke-width="3.4" stroke-linecap="round"/>
<circle cx="401.0" cy="183" r="1.75" fill="#00008B"/>
<circle cx="401.0" cy="197" r="1.75" fill="#00008B"/>
<circle cx="401.0" cy="205" r="1.75" fill="#00008B"/>
<circle cx="401.0" cy="213" r="1.75" fill="#00008B"/>
<circle cx="401.0" cy="232" r="1.75" fill="#00008B"/>
<line x1="401.0" x2="401.0" y1="238" y2="250" stroke="#00008B" stroke-width="3.4" stroke-linecap="round"/>
<line x1="410.3" x2="410.3" y1="230" y2="250" stroke="#00008B" stroke-width="3.4" stroke-linecap="round"/>
<line x1="417.8" x2="417.8" y1="216" y2="250" stroke="#00008B" stroke-width="3.4" stroke-linecap="round"/>
<line x1="400.7" x2="400.7" y1="238" y2="250" stroke="#00008B" stroke-width="3.4" stroke-linecap="round"/>
<circle cx="426.1" cy="64" r="1.75" fill="#87CEEB"/>
<circle cx="426.1" cy="70.5" r="1.75" fill="#87CEEB"/>
<circle cx="426.1" cy="77.6" r="1.75" fill="#87CEEB"/>
<circle cx="426.1" cy="92.4" r="1.75" fill="#87CEEB"/>
<circle cx="426.1" cy="99" r="1.75" fill="#87CEEB"/>
<circle cx="426.1" cy="103.5" r="1.75" fill="#87CEEB"/>
<line x1="426.1" x2="426.1" y1="109" y2="111" stroke="#87CEEB" stroke-width="3.4" stroke-linecap="round"/>
<line x1="426.1" x2="426.1" y1="116" y2="120" stroke="#87CEEB" stroke-width="3.4" stroke-linecap="round"/>
<circle cx="426.1" cy="124.4" r="1.75" fill="#87CEEB"/>
<line x1="426.1" x2="426.1" y1="130" y2="142" stroke="#87CEEB" stroke-width="3.4" stroke-linecap="round"/>
<circle cx="426.1" cy="144" r="1.75" fill="#87CEEB"/>
<line x1="426.1" x2="426.1" y1="166" y2="172" stroke="#87CEEB" stroke-width="3.4" stroke-linecap="round"/>
<line x1="426.1" x2="426.1" y1="176" y2="187" stroke="#87CEEB" stroke-width="3.4" stroke-linecap="round"/>
<line x1="426.1" x2="426.1" y1="196" y2="258" stroke="#87CEEB" stroke-width="3.4" stroke-linecap="round"/>
<line x1="432.7" x2="432.7" y1="224" y2="258" stroke="#87CEEB" stroke-width="3.4" stroke-linecap="round"/>
<line x1="444.1" x2="444.1" y1="227" y2="260" stroke="#87CEEB" stroke-width="3.4" stroke-linecap="round"/>
<line x1="456.2" x2="456.2" y1="241" y2="252" stroke="#00008B" stroke-width="3.4" stroke-linecap="round"/>
<line x1="473.0" x2="473.0" y1="192" y2="205" stroke="#87CEEB" stroke-width="3.4" stroke-linecap="round"/>
<line x1="473.0" x2="473.0" y1="212" y2="256" stroke="#87CEEB" stroke-width="3.4" stroke-linecap="round"/>
<circle cx="483.0" cy="207" r="1.75" fill="#87CEEB"/>
<circle cx="497.3" cy="130" r="1.75" fill="#00008B"/>
<circle cx="497.3" cy="133.6" r="1.75" fill="#00008B"/>
<circle cx="497.3" cy="147.4" r="1.75" fill="#00008B"/>
<line x1="497.3" x2="497.3" y1="153" y2="158" stroke="#00008B" stroke-width="3.4" stroke-linecap="round"/>
<circle cx="497.3" cy="161" r="1.75" fill="#00008B"/>
<circle cx="497.3" cy="166.5" r="1.75" fill="#00008B"/>
<line x1="497.3" x2="497.3" y1="176" y2="180" stroke="#00008B" stroke-width="3.4" stroke-linecap="round"/>
<line x1="497.3" x2="497.3" y1="185" y2="190" stroke="#00008B" stroke-width="3.4" stroke-linecap="round"/>
<line x1="497.3" x2="497.3" y1="193" y2="200" stroke="#00008B" stroke-width="3.4" stroke-linecap="round"/>
<line x1="497.3" x2="497.3" y1="204" y2="240" stroke="#00008B" stroke-width="3.4" stroke-linecap="round"/>
<line x1="497.3" x2="497.3" y1="242" y2="256" stroke="#00008B" stroke-width="3.4" stroke-linecap="round"/>
<line x1="529.0" x2="529.0" y1="236" y2="260" stroke="#00008B" stroke-width="3.4" stroke-linecap="round"/>
<line x1="543.7" x2="543.7" y1="182" y2="258" stroke="#87CEEB" stroke-width="3.4" stroke-linecap="round"/>
<line x1="545.0" x2="545.0" y1="188" y2="200" stroke="#87CEEB" stroke-width="3.4" stroke-linecap="round"/>
<line x1="545.0" x2="545.0" y1="205" y2="258" stroke="#87CEEB" stroke-width="3.4" stroke-linecap="round"/>
<line x1="542.4" x2="542.4" y1="190" y2="198" stroke="#87CEEB" stroke-width="3.4" stroke-linecap="round"/>
<line x1="542.4" x2="542.4" y1="206" y2="258" stroke="#87CEEB" stroke-width="3.4" stroke-linecap="round"/>
<line x1="551.1" x2="551.1" y1="237" y2="248" stroke="#00008B" stroke-width="3.4" stroke-linecap="round"/>
<line x1="558.1" x2="558.1" y1="236" y2="248" stroke="#00008B" stroke-width="3.4" stroke-linecap="round"/>
<line x1="576.5" x2="576.5" y1="243" y2="262" stroke="#00008B" stroke-width="3.4" stroke-linecap="round"/>
<line x1="592.2" x2="592.2" y1="240" y2="272" stroke="#00008B" stroke-width="3.4" stroke-linecap="round"/>
<line x1="602.3" x2="602.3" y1="239" y2="272" stroke="#00008B" stroke-width="3.4" stroke-linecap="round"/>
<line x1="607.6" x2="607.6" y1="206" y2="226" stroke="#00008B" stroke-width="3.4" stroke-linecap="round"/>
<circle cx="607.6" cy="230" r="1.75" fill="#00008B"/>
<line x1="607.6" x2="607.6" y1="240" y2="270" stroke="#00008B" stroke-width="3.4" stroke-linecap="round"/>
<line x1="612.0" x2="612.0" y1="244" y2="272" stroke="#00008B" stroke-width="3.4" stroke-linecap="round"/>
<circle cx="366.4" cy="217.5" r="1.7" fill="#00008B"/>
<circle cx="452" cy="247" r="1.7" fill="#00008B"/>
<circle cx="454" cy="249" r="1.7" fill="#00008B"/>
<circle cx="451" cy="250" r="1.7" fill="#00008B"/>
<circle cx="456" cy="251" r="1.7" fill="#00008B"/>
<circle cx="453" cy="252" r="1.7" fill="#00008B"/>
<circle cx="449.5" cy="252" r="1.7" fill="#00008B"/>
<circle cx="457.5" cy="249" r="1.7" fill="#00008B"/>
<circle cx="81" cy="253" r="1.7" fill="#00008B"/>
<circle cx="86.4" cy="253" r="1.7" fill="#00008B"/>
<circle cx="78" cy="262" r="1.7" fill="#00008B"/>
<circle cx="84" cy="258" r="1.7" fill="#00008B"/>
<circle cx="106.5" cy="226" r="1.7" fill="#00008B"/>
<circle cx="107.5" cy="222" r="1.7" fill="#00008B"/>
<circle cx="109" cy="230" r="1.7" fill="#00008B"/>
<circle cx="110" cy="218" r="1.7" fill="#00008B"/>
<circle cx="112" cy="228" r="1.7" fill="#00008B"/>
<circle cx="113.5" cy="224" r="1.7" fill="#00008B"/>
<circle cx="116.5" cy="215" r="1.7" fill="#00008B"/>
<circle cx="117" cy="226" r="1.7" fill="#00008B"/>
<circle cx="107" cy="230" r="1.7" fill="#00008B"/>
<circle cx="108" cy="236" r="1.7" fill="#00008B"/>
<circle cx="116" cy="232" r="1.7" fill="#00008B"/>
<circle cx="114.5" cy="230" r="1.7" fill="#00008B"/>
<circle cx="105.5" cy="240" r="1.7" fill="#00008B"/>
<circle cx="109.5" cy="225" r="1.7" fill="#00008B"/>
<circle cx="117.5" cy="221" r="1.7" fill="#00008B"/>
<circle cx="379.1" cy="173.5" r="1.7" fill="#87CEEB"/>
<circle cx="336.2" cy="218" r="1.7" fill="#87CEEB"/>
<line x1="98.1" x2="98.1" y1="284.6" y2="287" stroke="#333" stroke-width="1"/>
<text x="98.1" y="293.9" text-anchor="middle" font-size="7.7" fill="#4D4D4D">1</text>
<line x1="141.7" x2="141.7" y1="284.6" y2="287" stroke="#333" stroke-width="1"/>
<text x="141.7" y="293.9" text-anchor="middle" font-size="7.7" fill="#4D4D4D">2</text>
<line x1="180.6" x2="180.6" y1="284.6" y2="287" stroke="#333" stroke-width="1"/>
<text x="180.6" y="293.9" text-anchor="middle" font-size="7.7" fill="#4D4D4D">3</text>
<line x1="215.8" x2="215.8" y1="284.6" y2="287" stroke="#333" stroke-width="1"/>
<text x="215.8" y="293.9" text-anchor="middle" font-size="7.7" fill="#4D4D4D">4</text>
<line x1="248.7" x2="248.7" y1="284.6" y2="287" stroke="#333" stroke-width="1"/>
<text x="248.7" y="293.9" text-anchor="middle" font-size="7.7" fill="#4D4D4D">5</text>
<line x1="280.0" x2="280.0" y1="284.6" y2="287" stroke="#333" stroke-width="1"/>
<text x="280.0" y="293.9" text-anchor="middle" font-size="7.7" fill="#4D4D4D">6</text>
<line x1="309.3" x2="309.3" y1="284.6" y2="287" stroke="#333" stroke-width="1"/>
<text x="309.3" y="293.9" text-anchor="middle" font-size="7.7" fill="#4D4D4D">7</text>
<line x1="336.7" x2="336.7" y1="284.6" y2="287" stroke="#333" stroke-width="1"/>
<text x="336.7" y="293.9" text-anchor="middle" font-size="7.7" fill="#4D4D4D">8</text>
<line x1="361.6" x2="361.6" y1="284.6" y2="287" stroke="#333" stroke-width="1"/>
<text x="361.6" y="293.9" text-anchor="middle" font-size="7.7" fill="#4D4D4D">9</text>
<line x1="386.3" x2="386.3" y1="284.6" y2="287" stroke="#333" stroke-width="1"/>
<text x="386.3" y="293.9" text-anchor="middle" font-size="7.7" fill="#4D4D4D">10</text>
<line x1="410.4" x2="410.4" y1="284.6" y2="287" stroke="#333" stroke-width="1"/>
<text x="410.4" y="293.9" text-anchor="middle" font-size="7.7" fill="#4D4D4D">11</text>
<line x1="434.3" x2="434.3" y1="284.6" y2="287" stroke="#333" stroke-width="1"/>
<text x="434.3" y="293.9" text-anchor="middle" font-size="7.7" fill="#4D4D4D">12</text>
<line x1="458.1" x2="458.1" y1="284.6" y2="287" stroke="#333" stroke-width="1"/>
<text x="458.1" y="293.9" text-anchor="middle" font-size="7.7" fill="#4D4D4D">13</text>
<line x1="477.7" x2="477.7" y1="284.6" y2="287" stroke="#333" stroke-width="1"/>
<text x="477.7" y="293.9" text-anchor="middle" font-size="7.7" fill="#4D4D4D">14</text>
<line x1="496.5" x2="496.5" y1="284.6" y2="287" stroke="#333" stroke-width="1"/>
<text x="496.5" y="293.9" text-anchor="middle" font-size="7.7" fill="#4D4D4D">15</text>
<line x1="511.8" x2="511.8" y1="284.6" y2="287" stroke="#333" stroke-width="1"/>
<text x="511.8" y="293.9" text-anchor="middle" font-size="7.7" fill="#4D4D4D">16</text>
<line x1="527.1" x2="527.1" y1="284.6" y2="287" stroke="#333" stroke-width="1"/>
<text x="527.1" y="293.9" text-anchor="middle" font-size="7.7" fill="#4D4D4D">17</text>
<line x1="542.0" x2="542.0" y1="284.6" y2="287" stroke="#333" stroke-width="1"/>
<text x="542.0" y="293.9" text-anchor="middle" font-size="7.7" fill="#4D4D4D">18</text>
<line x1="554.1" x2="554.1" y1="284.6" y2="287" stroke="#333" stroke-width="1"/>
<text x="554.1" y="293.9" text-anchor="middle" font-size="7.7" fill="#4D4D4D">19</text>
<line x1="564.9" x2="564.9" y1="284.6" y2="287" stroke="#333" stroke-width="1"/>
<text x="564.9" y="293.9" text-anchor="middle" font-size="7.7" fill="#4D4D4D">20</text>
<line x1="575.9" x2="575.9" y1="284.6" y2="287" stroke="#333" stroke-width="1"/>
<text x="575.9" y="293.9" text-anchor="middle" font-size="7.7" fill="#4D4D4D">21</text>
<line x1="584.8" x2="584.8" y1="284.6" y2="287" stroke="#333" stroke-width="1"/>
<text x="584.8" y="293.9" text-anchor="middle" font-size="7.7" fill="#4D4D4D">22</text>
<line x1="601.8" x2="601.8" y1="284.6" y2="287" stroke="#333" stroke-width="1"/>
<text x="601.8" y="293.9" text-anchor="middle" font-size="7.7" fill="#4D4D4D">23</text>
<line x1="48.9" x2="640" y1="245" y2="245" stroke="#FF0000" stroke-width="2" stroke-dasharray="6.2 6.236"/>
<line x1="76.4" y1="230" x2="96.1" y2="233.3" stroke="#000" stroke-width="1.35"/>
<line x1="70" y1="241.3" x2="79.6" y2="238.9" stroke="#000" stroke-width="1.35"/>
<line x1="146.5" y1="171.5" x2="132.7" y2="177" stroke="#000" stroke-width="1.35"/>
<line x1="152.5" y1="226" x2="156.5" y2="229.8" stroke="#000" stroke-width="1.35"/>
<line x1="183.3" y1="228" x2="187.7" y2="231.5" stroke="#000" stroke-width="1.35"/>
<line x1="187.7" y1="231.5" x2="195" y2="257.8" stroke="#000" stroke-width="1.35"/>
<line x1="243.2" y1="233" x2="263" y2="239.4" stroke="#000" stroke-width="1.35"/>
<line x1="262" y1="224.7" x2="271" y2="227.8" stroke="#000" stroke-width="1.35"/>
<line x1="266.4" y1="224" x2="277.3" y2="234" stroke="#000" stroke-width="1.35"/>
<line x1="262" y1="208" x2="271.5" y2="213.4" stroke="#000" stroke-width="1.35"/>
<line x1="298.9" y1="226.4" x2="311" y2="212.6" stroke="#000" stroke-width="1.35"/>
<line x1="308.5" y1="237.4" x2="315" y2="229.6" stroke="#000" stroke-width="1.35"/>
<line x1="318.5" y1="240" x2="329.9" y2="239.5" stroke="#000" stroke-width="1.35"/>
<line x1="305" y1="249.7" x2="318.5" y2="240" stroke="#000" stroke-width="1.35"/>
<line x1="354.4" y1="230.1" x2="365.7" y2="231.5" stroke="#000" stroke-width="1.35"/>
<line x1="372" y1="240.2" x2="372" y2="249.6" stroke="#000" stroke-width="1.35"/>
<line x1="372.1" y1="240.4" x2="389.7" y2="246" stroke="#000" stroke-width="1.35"/>
<line x1="405" y1="193.7" x2="410.3" y2="211.2" stroke="#000" stroke-width="1.35"/>
<line x1="417.8" y1="216.4" x2="423" y2="210.1" stroke="#000" stroke-width="1.35"/>
<line x1="400.7" y1="237.5" x2="417.3" y2="241" stroke="#000" stroke-width="1.35"/>
<line x1="444.1" y1="227" x2="463.2" y2="232" stroke="#000" stroke-width="1.35"/>
<line x1="270" y1="241" x2="272" y2="249.7" stroke="#000" stroke-width="1.35"/>
<line x1="538.3" y1="241.5" x2="530" y2="243.9" stroke="#000" stroke-width="1.35"/>
<line x1="558.1" y1="235.2" x2="571" y2="220.3" stroke="#000" stroke-width="1.35"/>
<line x1="576.5" y1="227.8" x2="590.4" y2="220" stroke="#000" stroke-width="1.35"/>
<line x1="602.5" y1="243" x2="606.7" y2="246" stroke="#000" stroke-width="1.35"/>
<line x1="426.1" y1="64.2" x2="434" y2="62.4" stroke="#000" stroke-width="1.35"/>
<rect x="61.30" y="153.90" width="29.10" height="9.70" rx="2.3" fill="#fff" stroke="#000" stroke-width="1.05"/>
<text transform="translate(75.85,160.80) scale(0.93,1)" text-anchor="middle" font-size="5.75" fill="#000" text-rendering="geometricPrecision">COL11A1</text>
<rect x="71.40" y="171.50" width="32.70" height="9.50" rx="2.3" fill="#fff" stroke="#000" stroke-width="1.05"/>
<text transform="translate(87.75,178.30) scale(0.93,1)" text-anchor="middle" font-size="5.75" fill="#000" text-rendering="geometricPrecision">COLGALT2</text>
<rect x="83.20" y="209.40" width="23.40" height="9.20" rx="2.3" fill="#fff" stroke="#000" stroke-width="1.05"/>
<text transform="translate(94.90,216.05) scale(0.93,1)" text-anchor="middle" font-size="5.75" fill="#000" text-rendering="geometricPrecision">PTPRC</text>
<rect x="59.60" y="226.20" width="16.50" height="8.20" rx="2.3" fill="#fff" stroke="#000" stroke-width="1.05"/>
<text transform="translate(67.85,232.35) scale(0.93,1)" text-anchor="middle" font-size="5.75" fill="#000" text-rendering="geometricPrecision">NGF</text>
<rect x="56.10" y="241.40" width="19.10" height="9.90" rx="2.3" fill="#fff" stroke="#000" stroke-width="1.05"/>
<text transform="translate(65.65,248.40) scale(0.93,1)" text-anchor="middle" font-size="5.75" fill="#000" text-rendering="geometricPrecision">ALPL</text>
<rect x="119.50" y="237.10" width="22.70" height="9.00" rx="2.3" fill="#fff" stroke="#000" stroke-width="1.05"/>
<text transform="translate(130.85,243.65) scale(0.93,1)" text-anchor="middle" font-size="5.75" fill="#000" text-rendering="geometricPrecision">TGFB2</text>
<rect x="116.00" y="181.30" width="23.20" height="9.80" rx="2.3" fill="#fff" stroke="#000" stroke-width="1.05"/>
<text transform="translate(127.60,188.25) scale(0.93,1)" text-anchor="middle" font-size="5.75" fill="#000" text-rendering="geometricPrecision">HHIPL2</text>
<rect x="146.80" y="166.90" width="19.30" height="9.20" rx="2.3" fill="#fff" stroke="#000" stroke-width="1.05"/>
<text transform="translate(156.45,173.55) scale(0.93,1)" text-anchor="middle" font-size="5.75" fill="#000" text-rendering="geometricPrecision">TGFA</text>
<rect x="137.50" y="198.30" width="23.20" height="9.40" rx="2.3" fill="#fff" stroke="#000" stroke-width="1.05"/>
<text transform="translate(149.10,205.05) scale(0.93,1)" text-anchor="middle" font-size="5.75" fill="#000" text-rendering="geometricPrecision">GFPT1</text>
<rect x="133.20" y="218.70" width="19.00" height="8.70" rx="2.3" fill="#fff" stroke="#000" stroke-width="1.05"/>
<text transform="translate(142.70,225.10) scale(0.93,1)" text-anchor="middle" font-size="5.75" fill="#000" text-rendering="geometricPrecision">GPR1</text>
<rect x="171.70" y="139.70" width="22.70" height="9.60" rx="2.3" fill="#fff" stroke="#000" stroke-width="1.05"/>
<text transform="translate(183.05,146.55) scale(0.93,1)" text-anchor="middle" font-size="5.75" fill="#000" text-rendering="geometricPrecision">FGFR3</text>
<rect x="166.70" y="201.90" width="21.90" height="9.90" rx="2.3" fill="#fff" stroke="#000" stroke-width="1.05"/>
<text transform="translate(177.65,208.90) scale(0.93,1)" text-anchor="middle" font-size="5.75" fill="#000" text-rendering="geometricPrecision">HYAL2</text>
<rect x="163.30" y="220.00" width="19.80" height="9.50" rx="2.3" fill="#fff" stroke="#000" stroke-width="1.05"/>
<text transform="translate(173.20,226.80) scale(0.93,1)" text-anchor="middle" font-size="5.75" fill="#000" text-rendering="geometricPrecision">NCK1</text>
<rect x="148.80" y="246.50" width="26.60" height="8.90" rx="2.3" fill="#fff" stroke="#000" stroke-width="1.05"/>
<text transform="translate(162.10,253.00) scale(0.93,1)" text-anchor="middle" font-size="5.75" fill="#000" text-rendering="geometricPrecision">PDZRN3</text>
<rect x="191.50" y="241.00" width="22.40" height="9.50" rx="2.3" fill="#fff" stroke="#000" stroke-width="1.05"/>
<text transform="translate(202.70,247.80) scale(0.93,1)" text-anchor="middle" font-size="5.75" fill="#000" text-rendering="geometricPrecision">SHOX2</text>
<rect x="183.10" y="258.10" width="22.60" height="8.50" rx="2.3" fill="#fff" stroke="#000" stroke-width="1.05"/>
<text transform="translate(194.40,264.40) scale(0.93,1)" text-anchor="middle" font-size="5.75" fill="#000" text-rendering="geometricPrecision">ADCY5</text>
<rect x="195.80" y="217.80" width="16.90" height="9.10" rx="2.3" fill="#fff" stroke="#000" stroke-width="1.05"/>
<text transform="translate(204.25,224.40) scale(0.93,1)" text-anchor="middle" font-size="5.75" fill="#000" text-rendering="geometricPrecision">IBSP</text>
<rect x="221.80" y="227.50" width="21.10" height="8.60" rx="2.3" fill="#fff" stroke="#000" stroke-width="1.05"/>
<text transform="translate(232.35,233.85) scale(0.93,1)" text-anchor="middle" font-size="5.75" fill="#000" text-rendering="geometricPrecision">FGF18</text>
<rect x="230.00" y="243.70" width="22.70" height="8.90" rx="2.3" fill="#fff" stroke="#000" stroke-width="1.05"/>
<text transform="translate(241.35,250.20) scale(0.93,1)" text-anchor="middle" font-size="5.75" fill="#000" text-rendering="geometricPrecision">HDAC3</text>
<rect x="249.70" y="177.30" width="16.40" height="9.60" rx="2.3" fill="#fff" stroke="#000" stroke-width="1.05"/>
<text transform="translate(257.90,184.15) scale(0.93,1)" text-anchor="middle" font-size="5.75" fill="#000" text-rendering="geometricPrecision">HLA</text>
<rect x="250.80" y="198.30" width="21.30" height="9.40" rx="2.3" fill="#fff" stroke="#000" stroke-width="1.05"/>
<text transform="translate(261.45,205.05) scale(0.93,1)" text-anchor="middle" font-size="5.75" fill="#000" text-rendering="geometricPrecision">IL1RN</text>
<rect x="249.60" y="215.50" width="16.50" height="8.90" rx="2.3" fill="#fff" stroke="#000" stroke-width="1.05"/>
<text transform="translate(257.85,222.00) scale(0.93,1)" text-anchor="middle" font-size="5.75" fill="#000" text-rendering="geometricPrecision">HLA</text>
<rect x="275.80" y="216.20" width="16.10" height="9.20" rx="2.3" fill="#fff" stroke="#000" stroke-width="1.05"/>
<text transform="translate(283.85,222.85) scale(0.93,1)" text-anchor="middle" font-size="5.75" fill="#000" text-rendering="geometricPrecision">HLA</text>
<rect x="279.30" y="185.70" width="21.40" height="9.40" rx="2.3" fill="#fff" stroke="#000" stroke-width="1.05"/>
<text transform="translate(290.00,192.45) scale(0.93,1)" text-anchor="middle" font-size="5.75" fill="#000" text-rendering="geometricPrecision">TBX18</text>
<rect x="277.60" y="233.40" width="22.50" height="9.00" rx="2.3" fill="#fff" stroke="#000" stroke-width="1.05"/>
<text transform="translate(288.85,239.95) scale(0.93,1)" text-anchor="middle" font-size="5.75" fill="#000" text-rendering="geometricPrecision">CDC5L</text>
<rect x="260.40" y="250.00" width="23.30" height="9.00" rx="2.3" fill="#fff" stroke="#000" stroke-width="1.05"/>
<text transform="translate(272.05,256.55) scale(0.93,1)" text-anchor="middle" font-size="5.75" fill="#000" text-rendering="geometricPrecision">TRIM38</text>
<rect x="299.00" y="203.30" width="25.30" height="9.00" rx="2.3" fill="#fff" stroke="#000" stroke-width="1.05"/>
<text transform="translate(311.65,209.85) scale(0.93,1)" text-anchor="middle" font-size="5.75" fill="#000" text-rendering="geometricPrecision">TWIST1</text>
<rect x="307.50" y="219.60" width="15.90" height="9.10" rx="2.3" fill="#fff" stroke="#000" stroke-width="1.05"/>
<text transform="translate(315.45,226.20) scale(0.93,1)" text-anchor="middle" font-size="5.75" fill="#000" text-rendering="geometricPrecision">ELN</text>
<rect x="297.70" y="250.00" width="24.90" height="9.00" rx="2.3" fill="#fff" stroke="#000" stroke-width="1.05"/>
<text transform="translate(310.15,256.55) scale(0.93,1)" text-anchor="middle" font-size="5.75" fill="#000" text-rendering="geometricPrecision">ZC3HC1</text>
<rect x="308.50" y="155.80" width="23.90" height="9.60" rx="2.3" fill="#fff" stroke="#000" stroke-width="1.05"/>
<text transform="translate(320.45,162.65) scale(0.93,1)" text-anchor="middle" font-size="5.75" fill="#000" text-rendering="geometricPrecision">IGFBP3</text>
<rect x="330.20" y="234.80" width="22.90" height="9.20" rx="2.3" fill="#fff" stroke="#000" stroke-width="1.05"/>
<text transform="translate(341.65,241.45) scale(0.93,1)" text-anchor="middle" font-size="5.75" fill="#000" text-rendering="geometricPrecision">STMP1</text>
<rect x="331.00" y="199.20" width="22.10" height="9.20" rx="2.3" fill="#fff" stroke="#000" stroke-width="1.05"/>
<text transform="translate(342.05,205.85) scale(0.93,1)" text-anchor="middle" font-size="5.75" fill="#000" text-rendering="geometricPrecision">VEST1</text>
<rect x="340.10" y="216.00" width="19.00" height="9.20" rx="2.3" fill="#fff" stroke="#000" stroke-width="1.05"/>
<text transform="translate(349.60,222.65) scale(0.93,1)" text-anchor="middle" font-size="5.75" fill="#000" text-rendering="geometricPrecision">PHF2</text>
<rect x="316.90" y="6.80" width="25.40" height="9.50" rx="2.3" fill="#fff" stroke="#000" stroke-width="1.05"/>
<text transform="translate(329.60,13.60) scale(0.93,1)" text-anchor="middle" font-size="5.75" fill="#000" text-rendering="geometricPrecision">GSDMC</text>
<rect x="391.40" y="12.90" width="23.90" height="9.90" rx="2.3" fill="#fff" stroke="#000" stroke-width="1.05"/>
<text transform="translate(403.35,19.90) scale(0.93,1)" text-anchor="middle" font-size="5.75" fill="#000" text-rendering="geometricPrecision">CHST3</text>
<rect x="360.00" y="199.20" width="26.40" height="9.20" rx="2.3" fill="#fff" stroke="#000" stroke-width="1.05"/>
<text transform="translate(373.20,205.85) scale(0.93,1)" text-anchor="middle" font-size="5.75" fill="#000" text-rendering="geometricPrecision">AKR1C1</text>
<rect x="366.00" y="227.20" width="23.20" height="9.00" rx="2.3" fill="#fff" stroke="#000" stroke-width="1.05"/>
<text transform="translate(377.60,233.75) scale(0.93,1)" text-anchor="middle" font-size="5.75" fill="#000" text-rendering="geometricPrecision">TUSC1</text>
<rect x="360.70" y="249.90" width="21.50" height="9.30" rx="2.3" fill="#fff" stroke="#000" stroke-width="1.05"/>
<text transform="translate(371.45,256.60) scale(0.93,1)" text-anchor="middle" font-size="5.75" fill="#000" text-rendering="geometricPrecision">LPAR1</text>
<rect x="390.00" y="243.10" width="20.00" height="9.40" rx="2.3" fill="#fff" stroke="#000" stroke-width="1.05"/>
<text transform="translate(400.00,249.85) scale(0.93,1)" text-anchor="middle" font-size="5.75" fill="#000" text-rendering="geometricPrecision">DNM1</text>
<rect x="357.50" y="172.50" width="17.30" height="9.40" rx="2.3" fill="#fff" stroke="#000" stroke-width="1.05"/>
<text transform="translate(366.15,179.25) scale(0.93,1)" text-anchor="middle" font-size="5.75" fill="#000" text-rendering="geometricPrecision">MKX</text>
<rect x="405.90" y="147.10" width="19.50" height="9.60" rx="2.3" fill="#fff" stroke="#000" stroke-width="1.05"/>
<text transform="translate(415.65,153.95) scale(0.93,1)" text-anchor="middle" font-size="5.75" fill="#000" text-rendering="geometricPrecision">SOX6</text>
<rect x="392.70" y="183.90" width="24.70" height="9.50" rx="2.3" fill="#fff" stroke="#000" stroke-width="1.05"/>
<text transform="translate(405.05,190.70) scale(0.93,1)" text-anchor="middle" font-size="5.75" fill="#000" text-rendering="geometricPrecision">MYEOV</text>
<rect x="415.50" y="201.00" width="16.40" height="8.80" rx="2.3" fill="#fff" stroke="#000" stroke-width="1.05"/>
<text transform="translate(423.70,207.45) scale(0.93,1)" text-anchor="middle" font-size="5.75" fill="#000" text-rendering="geometricPrecision">SIK2</text>
<rect x="395.70" y="220.90" width="22.70" height="9.10" rx="2.3" fill="#fff" stroke="#000" stroke-width="1.05"/>
<text transform="translate(407.05,227.50) scale(0.93,1)" text-anchor="middle" font-size="5.75" fill="#000" text-rendering="geometricPrecision">HTRA1</text>
<rect x="417.60" y="236.70" width="22.50" height="9.20" rx="2.3" fill="#fff" stroke="#000" stroke-width="1.05"/>
<text transform="translate(428.85,243.35) scale(0.93,1)" text-anchor="middle" font-size="5.75" fill="#000" text-rendering="geometricPrecision">ARNTL</text>
<rect x="431.30" y="52.90" width="19.30" height="9.20" rx="2.3" fill="#fff" stroke="#000" stroke-width="1.05"/>
<text transform="translate(440.95,59.55) scale(0.93,1)" text-anchor="middle" font-size="5.75" fill="#000" text-rendering="geometricPrecision">SOX5</text>
<rect x="439.50" y="213.60" width="16.60" height="9.00" rx="2.3" fill="#fff" stroke="#000" stroke-width="1.05"/>
<text transform="translate(447.80,220.15) scale(0.93,1)" text-anchor="middle" font-size="5.75" fill="#000" text-rendering="geometricPrecision">GLI1</text>
<rect x="463.50" y="228.00" width="22.70" height="9.20" rx="2.3" fill="#fff" stroke="#000" stroke-width="1.05"/>
<text transform="translate(474.85,234.65) scale(0.93,1)" text-anchor="middle" font-size="5.75" fill="#000" text-rendering="geometricPrecision">KMT5A</text>
<rect x="461.40" y="244.00" width="24.80" height="9.60" rx="2.3" fill="#fff" stroke="#000" stroke-width="1.05"/>
<text transform="translate(473.80,250.85) scale(0.93,1)" text-anchor="middle" font-size="5.75" fill="#000" text-rendering="geometricPrecision">DIAPH3</text>
<rect x="449.50" y="180.00" width="18.80" height="9.90" rx="2.3" fill="#fff" stroke="#000" stroke-width="1.05"/>
<text transform="translate(458.90,187.00) scale(0.93,1)" text-anchor="middle" font-size="5.75" fill="#000" text-rendering="geometricPrecision">PAX3</text>
<rect x="501.80" y="117.80" width="24.50" height="9.60" rx="2.3" fill="#fff" stroke="#000" stroke-width="1.05"/>
<text transform="translate(514.05,124.65) scale(0.93,1)" text-anchor="middle" font-size="5.75" fill="#000" text-rendering="geometricPrecision">SMAD3</text>
<rect x="485.70" y="207.40" width="31.30" height="9.30" rx="2.3" fill="#fff" stroke="#000" stroke-width="1.05"/>
<text transform="translate(501.35,214.10) scale(0.93,1)" text-anchor="middle" font-size="5.75" fill="#000" text-rendering="geometricPrecision">SERPINA1</text>
<rect x="511.80" y="188.70" width="25.90" height="9.40" rx="2.3" fill="#fff" stroke="#000" stroke-width="1.05"/>
<text transform="translate(524.75,195.45) scale(0.93,1)" text-anchor="middle" font-size="5.75" fill="#000" text-rendering="geometricPrecision">SETBP1</text>
<rect x="548.40" y="171.60" width="17.80" height="9.60" rx="2.3" fill="#fff" stroke="#000" stroke-width="1.05"/>
<text transform="translate(557.30,178.45) scale(0.93,1)" text-anchor="middle" font-size="5.75" fill="#000" text-rendering="geometricPrecision">DCC</text>
<rect x="505.90" y="225.00" width="18.10" height="9.20" rx="2.3" fill="#fff" stroke="#000" stroke-width="1.05"/>
<text transform="translate(514.95,231.65) scale(0.93,1)" text-anchor="middle" font-size="5.75" fill="#000" text-rendering="geometricPrecision">CA10</text>
<rect x="514.10" y="244.20" width="20.80" height="9.20" rx="2.3" fill="#fff" stroke="#000" stroke-width="1.05"/>
<text transform="translate(524.50,250.85) scale(0.93,1)" text-anchor="middle" font-size="5.75" fill="#000" text-rendering="geometricPrecision">NPC1</text>
<rect x="533.70" y="223.70" width="19.20" height="9.10" rx="2.3" fill="#fff" stroke="#000" stroke-width="1.05"/>
<text transform="translate(543.30,230.30) scale(0.93,1)" text-anchor="middle" font-size="5.75" fill="#000" text-rendering="geometricPrecision">TECR</text>
<rect x="560.50" y="210.60" width="22.70" height="9.40" rx="2.3" fill="#fff" stroke="#000" stroke-width="1.05"/>
<text transform="translate(571.85,217.35) scale(0.93,1)" text-anchor="middle" font-size="5.75" fill="#000" text-rendering="geometricPrecision">LENG8</text>
<rect x="543.50" y="244.60" width="22.20" height="9.90" rx="2.3" fill="#fff" stroke="#000" stroke-width="1.05"/>
<text transform="translate(554.60,251.60) scale(0.93,1)" text-anchor="middle" font-size="5.75" fill="#000" text-rendering="geometricPrecision">FOXA3</text>
<rect x="572.00" y="228.80" width="26.30" height="9.40" rx="2.3" fill="#fff" stroke="#000" stroke-width="1.05"/>
<text transform="translate(585.15,235.55) scale(0.93,1)" text-anchor="middle" font-size="5.75" fill="#000" text-rendering="geometricPrecision">PCYT1B</text>
<rect x="590.70" y="212.50" width="24.80" height="9.40" rx="2.3" fill="#fff" stroke="#000" stroke-width="1.05"/>
<text transform="translate(603.10,219.25) scale(0.93,1)" text-anchor="middle" font-size="5.75" fill="#000" text-rendering="geometricPrecision">SLC5A3</text>
<rect x="612.10" y="192.30" width="27.40" height="10.00" rx="2.3" fill="#fff" stroke="#000" stroke-width="1.05"/>
<text transform="translate(625.80,199.35) scale(0.93,1)" text-anchor="middle" font-size="5.75" fill="#000" text-rendering="geometricPrecision">CHRDL1</text>
<rect x="607.00" y="228.80" width="21.10" height="9.40" rx="2.3" fill="#fff" stroke="#000" stroke-width="1.05"/>
<text transform="translate(617.55,235.55) scale(0.93,1)" text-anchor="middle" font-size="5.75" fill="#000" text-rendering="geometricPrecision">Empty</text>
<rect x="607.00" y="244.90" width="21.10" height="9.80" rx="2.3" fill="#fff" stroke="#000" stroke-width="1.05"/>
<text transform="translate(617.55,251.85) scale(0.93,1)" text-anchor="middle" font-size="5.75" fill="#000" text-rendering="geometricPrecision">ITM2A</text>
<circle cx="94.2" cy="167.6" r="2.8" fill="#FFA500"/>
<circle cx="108.4" cy="184.4" r="2.8" fill="#FFA500"/>
<circle cx="111.1" cy="206.2" r="2.8" fill="#FFA500"/>
<circle cx="132.7" cy="177" r="2.8" fill="#FFA500"/>
<circle cx="132.7" cy="195.6" r="2.8" fill="#FFA500"/>
<circle cx="199" cy="136.8" r="2.8" fill="#FFA500"/>
<circle cx="271.5" cy="213.4" r="2.8" fill="#FFA500"/>
<circle cx="270.8" cy="221.7" r="2.8" fill="#FFA500"/>
<circle cx="272.9" cy="229.2" r="2.8" fill="#FFA500"/>
<circle cx="298.9" cy="226.4" r="2.8" fill="#FFA500"/>
<circle cx="303.4" cy="168.3" r="2.8" fill="#FFA500"/>
<circle cx="336.2" cy="214" r="2.8" fill="#FFA500"/>
<circle cx="366.4" cy="212.9" r="2.8" fill="#FFA500"/>
<circle cx="347" cy="3" r="2.8" fill="#FFA500"/>
<circle cx="387.2" cy="10.2" r="2.8" fill="#FFA500"/>
<circle cx="426.1" cy="64.2" r="2.8" fill="#FFA500"/>
<circle cx="401" cy="158.5" r="2.8" fill="#FFA500"/>
<circle cx="378.8" cy="171" r="2.8" fill="#FFA500"/>
<circle cx="400.7" cy="237.5" r="2.8" fill="#FFA500"/>
<circle cx="473" cy="191.5" r="2.8" fill="#FFA500"/>
<circle cx="483" cy="203" r="2.8" fill="#FFA500"/>
<circle cx="497.3" cy="130.3" r="2.8" fill="#FFA500"/>
<circle cx="556.4" cy="240.1" r="2.8" fill="#FFA500"/>
<circle cx="115.6" cy="192.2" r="2.8" fill="#CD0000"/>
<circle cx="96.1" cy="233.3" r="2.8" fill="#CD0000"/>
<circle cx="79.6" cy="238.9" r="2.8" fill="#CD0000"/>
<circle cx="115" cy="233.3" r="2.8" fill="#CD0000"/>
<circle cx="156.5" cy="229.8" r="2.8" fill="#CD0000"/>
<circle cx="172.2" cy="215.8" r="2.8" fill="#CD0000"/>
<circle cx="176.3" cy="242" r="2.8" fill="#CD0000"/>
<circle cx="185" cy="238.9" r="2.8" fill="#CD0000"/>
<circle cx="191.7" cy="237.1" r="2.8" fill="#CD0000"/>
<circle cx="214.5" cy="231.2" r="2.8" fill="#CD0000"/>
<circle cx="263" cy="239.4" r="2.8" fill="#CD0000"/>
<circle cx="258.3" cy="241.7" r="2.8" fill="#CD0000"/>
<circle cx="270.6" cy="188" r="2.8" fill="#CD0000"/>
<circle cx="280.3" cy="199.8" r="2.8" fill="#CD0000"/>
<circle cx="270.3" cy="227.8" r="2.8" fill="#CD0000"/>
<circle cx="270" cy="241" r="2.8" fill="#CD0000"/>
<circle cx="308.5" cy="237.4" r="2.8" fill="#CD0000"/>
<circle cx="319.1" cy="238.8" r="2.8" fill="#CD0000"/>
<circle cx="318.1" cy="240.9" r="2.8" fill="#CD0000"/>
<circle cx="375.2" cy="212.6" r="2.8" fill="#CD0000"/>
<circle cx="354.4" cy="230.1" r="2.8" fill="#CD0000"/>
<circle cx="369.2" cy="240.2" r="2.8" fill="#CD0000"/>
<circle cx="372.7" cy="240.2" r="2.8" fill="#CD0000"/>
<circle cx="410.3" cy="211.2" r="2.8" fill="#CD0000"/>
<circle cx="417.8" cy="216.4" r="2.8" fill="#CD0000"/>
<circle cx="432.7" cy="224.3" r="2.8" fill="#CD0000"/>
<circle cx="444.1" cy="227" r="2.8" fill="#CD0000"/>
<circle cx="456.2" cy="241" r="2.8" fill="#CD0000"/>
<circle cx="542.2" cy="201.5" r="2.8" fill="#CD0000"/>
<circle cx="538.3" cy="241.5" r="2.8" fill="#CD0000"/>
<circle cx="558.1" cy="235.2" r="2.8" fill="#CD0000"/>
<circle cx="551.1" cy="236.6" r="2.8" fill="#CD0000"/>
<circle cx="576.5" cy="227.8" r="2.8" fill="#CD0000"/>
<circle cx="607.6" cy="205.7" r="2.8" fill="#CD0000"/>
<circle cx="592.2" cy="240.1" r="2.8" fill="#CD0000"/>
<circle cx="602.3" cy="239.4" r="2.8" fill="#CD0000"/>
<circle cx="602.5" cy="243" r="2.8" fill="#CD0000"/>
<circle cx="187.7" cy="231.5" r="2.8" fill="#000"/>
<circle cx="396.3" cy="216.4" r="2.8" fill="#000"/>
<circle cx="543.7" cy="182.3" r="2.8" fill="#000"/>
<circle cx="529" cy="236.2" r="2.8" fill="#000"/>
<text x="355.5" y="305.6" text-anchor="middle" font-size="9.5" fill="#000">Chromosome</text>
<text transform="translate(32.4,143.6) rotate(-90)" text-anchor="middle" font-size="9.5" fill="#000">&#8722;log10(P)</text>
<text transform="translate(23.9,12.8) scale(1.07,1)" font-size="15.2" font-weight="bold" fill="#000" stroke="#000" stroke-width="0.25">A</text>
<text x="-0.8" y="322.8" font-size="13.4" font-weight="bold" fill="#000">B</text>
<rect x="0" y="326.1" width="104.5" height="14.4" fill="#D9D9D9"/>
<text x="54.2" y="336.3" text-anchor="middle" font-size="8.75" fill="#1A1A1A"><tspan font-weight="bold" font-style="italic">COL11A1</tspan> rs3056624-G</text>
<rect x="0" y="340.5" width="104.5" height="68.3" fill="#EBEBEB"/>
<line x1="23.0" x2="23.0" y1="340.5" y2="408.8" stroke="#fff" stroke-width="0.8"/>
<line x1="58.6" x2="58.6" y1="340.5" y2="408.8" stroke="#fff" stroke-width="0.8"/>
<line x1="94.3" x2="94.3" y1="340.5" y2="408.8" stroke="#fff" stroke-width="0.8"/>
<line x1="5.1" x2="5.1" y1="340.5" y2="408.8" stroke="#fff" stroke-width="1.4"/>
<line x1="40.8" x2="40.8" y1="340.5" y2="408.8" stroke="#fff" stroke-width="1.4"/>
<line x1="76.5" x2="76.5" y1="340.5" y2="408.8" stroke="#fff" stroke-width="1.4"/>
<line x1="0" x2="104.5" y1="354.1" y2="354.1" stroke="#fff" stroke-width="1.4"/>
<line x1="0" x2="104.5" y1="375.5" y2="375.5" stroke="#fff" stroke-width="1.4"/>
<line x1="0" x2="104.5" y1="396.9" y2="396.9" stroke="#fff" stroke-width="1.4"/>
<line x1="5.1" x2="5.1" y1="341.1" y2="409.8" stroke="#000" stroke-width="1.5"/>
<text x="7.5" y="417.3" text-anchor="middle" font-size="7.7" fill="#4D4D4D">0.00</text>
<line x1="40.8" x2="40.8" y1="408.8" y2="410.8" stroke="#333" stroke-width="1.1"/>
<text x="43.4" y="417.3" text-anchor="middle" font-size="7.7" fill="#4D4D4D">0.05</text>
<line x1="76.5" x2="76.5" y1="408.8" y2="410.8" stroke="#333" stroke-width="1.1"/>
<text x="79.1" y="417.3" text-anchor="middle" font-size="7.7" fill="#4D4D4D">0.10</text>
<line x1="30.8" x2="47.9" y1="354.1" y2="354.1" stroke="#619CFF" stroke-width="1.4"/>
<line x1="30.8" x2="30.8" y1="353.2" y2="355.0" stroke="#619CFF" stroke-width="1.2"/>
<line x1="47.9" x2="47.9" y1="353.2" y2="355.0" stroke="#619CFF" stroke-width="1.2"/>
<circle cx="39.4" cy="354.1" r="2.2" fill="#619CFF"/>
<text x="107.2" y="356.6" font-size="7" fill="#000">0.048 (0.036/0.060)</text>
<line x1="38.7" x2="68.6" y1="375.5" y2="375.5" stroke="#00BA38" stroke-width="1.4"/>
<line x1="38.7" x2="38.7" y1="374.6" y2="376.4" stroke="#00BA38" stroke-width="1.2"/>
<line x1="68.6" x2="68.6" y1="374.6" y2="376.4" stroke="#00BA38" stroke-width="1.2"/>
<circle cx="53.7" cy="375.5" r="2.2" fill="#00BA38"/>
<text x="107.2" y="378.0" font-size="7" fill="#000">0.068 (0.047/0.089)</text>
<text x="194.7" y="377.7" font-size="7" fill="#000">0.112</text>
<line x1="52.2" x2="99.3" y1="396.9" y2="396.9" stroke="#F8766D" stroke-width="1.4"/>
<line x1="52.2" x2="52.2" y1="396.0" y2="397.8" stroke="#F8766D" stroke-width="1.2"/>
<line x1="99.3" x2="99.3" y1="396.0" y2="397.8" stroke="#F8766D" stroke-width="1.2"/>
<circle cx="75.8" cy="396.9" r="2.2" fill="#F8766D"/>
<text x="107.2" y="399.4" font-size="7" fill="#000">0.099 (0.066/0.132)</text>
<text x="194.7" y="400.3" font-size="7" fill="#000">0.004</text>
<text x="138.7" y="336.0" text-anchor="middle" font-size="8.7" font-weight="bold" fill="#000">Beta (95% CI)</text>
<text x="189.3" y="336.0" font-size="8.7" font-weight="bold" fill="#000">p-value</text>
<rect x="235.2" y="326.4" width="104.0" height="14.4" fill="#D9D9D9"/>
<text x="289.2" y="336.6" text-anchor="middle" font-size="8.75" fill="#1A1A1A"><tspan font-weight="bold" font-style="italic">GFPT1</tspan> rs12997836-C</text>
<rect x="235.2" y="340.8" width="104.0" height="68.3" fill="#EBEBEB"/>
<line x1="249.7" x2="249.7" y1="340.8" y2="409.1" stroke="#fff" stroke-width="0.8"/>
<line x1="259.4" x2="259.4" y1="340.8" y2="409.1" stroke="#fff" stroke-width="0.8"/>
<line x1="269.2" x2="269.2" y1="340.8" y2="409.1" stroke="#fff" stroke-width="0.8"/>
<line x1="288.6" x2="288.6" y1="340.8" y2="409.1" stroke="#fff" stroke-width="0.8"/>
<line x1="298.4" x2="298.4" y1="340.8" y2="409.1" stroke="#fff" stroke-width="0.8"/>
<line x1="308.1" x2="308.1" y1="340.8" y2="409.1" stroke="#fff" stroke-width="0.8"/>
<line x1="327.5" x2="327.5" y1="340.8" y2="409.1" stroke="#fff" stroke-width="0.8"/>
<line x1="337.2" x2="337.2" y1="340.8" y2="409.1" stroke="#fff" stroke-width="0.8"/>
<line x1="240.0" x2="240.0" y1="340.8" y2="409.1" stroke="#fff" stroke-width="1.4"/>
<line x1="278.9" x2="278.9" y1="340.8" y2="409.1" stroke="#fff" stroke-width="1.4"/>
<line x1="317.8" x2="317.8" y1="340.8" y2="409.1" stroke="#fff" stroke-width="1.4"/>
<line x1="235.2" x2="339.2" y1="354.4" y2="354.4" stroke="#fff" stroke-width="1.4"/>
<line x1="235.2" x2="339.2" y1="375.8" y2="375.8" stroke="#fff" stroke-width="1.4"/>
<line x1="235.2" x2="339.2" y1="397.2" y2="397.2" stroke="#fff" stroke-width="1.4"/>
<line x1="240.0" x2="240.0" y1="341.4" y2="410.1" stroke="#000" stroke-width="1.5"/>
<text x="242.5" y="417.6" text-anchor="middle" font-size="7.7" fill="#4D4D4D">0.00</text>
<line x1="278.9" x2="278.9" y1="409.1" y2="411.1" stroke="#333" stroke-width="1.1"/>
<text x="279.6" y="417.6" text-anchor="middle" font-size="7.7" fill="#4D4D4D">0.05</text>
<line x1="317.8" x2="317.8" y1="409.1" y2="411.1" stroke="#333" stroke-width="1.1"/>
<text x="316.7" y="417.6" text-anchor="middle" font-size="7.7" fill="#4D4D4D">0.10</text>
<line x1="264.1" x2="282.8" y1="354.4" y2="354.4" stroke="#619CFF" stroke-width="1.4"/>
<line x1="264.1" x2="264.1" y1="353.5" y2="355.3" stroke="#619CFF" stroke-width="1.2"/>
<line x1="282.8" x2="282.8" y1="353.5" y2="355.3" stroke="#619CFF" stroke-width="1.2"/>
<circle cx="273.5" cy="354.4" r="2.2" fill="#619CFF"/>
<text x="342.7" y="355.5" font-size="7" fill="#000">0.043 (0.031/0.055)</text>
<line x1="268.8" x2="301.5" y1="375.8" y2="375.8" stroke="#00BA38" stroke-width="1.4"/>
<line x1="268.8" x2="268.8" y1="374.9" y2="376.7" stroke="#00BA38" stroke-width="1.2"/>
<line x1="301.5" x2="301.5" y1="374.9" y2="376.7" stroke="#00BA38" stroke-width="1.2"/>
<circle cx="285.1" cy="375.8" r="2.2" fill="#00BA38"/>
<text x="342.7" y="377.0" font-size="7" fill="#000">0.058 (0.037/0.079)</text>
<text x="425.0" y="377.0" font-size="7" fill="#000">0.241</text>
<line x1="283.6" x2="334.9" y1="397.2" y2="397.2" stroke="#F8766D" stroke-width="1.4"/>
<line x1="283.6" x2="283.6" y1="396.3" y2="398.1" stroke="#F8766D" stroke-width="1.2"/>
<line x1="334.9" x2="334.9" y1="396.3" y2="398.1" stroke="#F8766D" stroke-width="1.2"/>
<circle cx="309.2" cy="397.2" r="2.2" fill="#F8766D"/>
<text x="342.7" y="399.7" font-size="7" fill="#000">0.089 (0.056/0.122)</text>
<text x="425.0" y="399.7" font-size="7" fill="#000">0.011</text>
<text x="373.5" y="336.3" text-anchor="middle" font-size="8.7" font-weight="bold" fill="#000">Beta (95% CI)</text>
<text x="420.2" y="336.3" font-size="8.7" font-weight="bold" fill="#000">p-value</text>
<rect x="469.8" y="326.3" width="104.2" height="14.4" fill="#D9D9D9"/>
<text x="521.9" y="336.5" text-anchor="middle" font-size="8.75" fill="#1A1A1A"><tspan font-weight="bold" font-style="italic">TGFA</tspan> rs3849286-T</text>
<rect x="469.8" y="340.7" width="104.2" height="68.3" fill="#EBEBEB"/>
<line x1="490.0" x2="490.0" y1="340.7" y2="409.0" stroke="#fff" stroke-width="0.8"/>
<line x1="521.8" x2="521.8" y1="340.7" y2="409.0" stroke="#fff" stroke-width="0.8"/>
<line x1="553.4" x2="553.4" y1="340.7" y2="409.0" stroke="#fff" stroke-width="0.8"/>
<line x1="474.2" x2="474.2" y1="340.7" y2="409.0" stroke="#fff" stroke-width="1.4"/>
<line x1="505.9" x2="505.9" y1="340.7" y2="409.0" stroke="#fff" stroke-width="1.4"/>
<line x1="537.6" x2="537.6" y1="340.7" y2="409.0" stroke="#fff" stroke-width="1.4"/>
<line x1="569.3" x2="569.3" y1="340.7" y2="409.0" stroke="#fff" stroke-width="1.4"/>
<line x1="469.8" x2="574.0" y1="354.3" y2="354.3" stroke="#fff" stroke-width="1.4"/>
<line x1="469.8" x2="574.0" y1="375.7" y2="375.7" stroke="#fff" stroke-width="1.4"/>
<line x1="469.8" x2="574.0" y1="397.1" y2="397.1" stroke="#fff" stroke-width="1.4"/>
<line x1="569.3" x2="569.3" y1="341.3" y2="410.0" stroke="#000" stroke-width="1.5"/>
<line x1="474.2" x2="474.2" y1="409.0" y2="411.0" stroke="#333" stroke-width="1.1"/>
<text x="472.3" y="417.5" text-anchor="middle" font-size="7.7" fill="#4D4D4D">−0.15</text>
<line x1="505.9" x2="505.9" y1="409.0" y2="411.0" stroke="#333" stroke-width="1.1"/>
<text x="503.5" y="417.5" text-anchor="middle" font-size="7.7" fill="#4D4D4D">−0.10</text>
<line x1="537.6" x2="537.6" y1="409.0" y2="411.0" stroke="#333" stroke-width="1.1"/>
<text x="535.3" y="417.5" text-anchor="middle" font-size="7.7" fill="#4D4D4D">−0.05</text>
<text x="566.5" y="417.5" text-anchor="middle" font-size="7.7" fill="#4D4D4D">0.00</text>
<line x1="530.6" x2="546.5" y1="354.3" y2="354.3" stroke="#619CFF" stroke-width="1.4"/>
<line x1="530.6" x2="530.6" y1="353.4" y2="355.2" stroke="#619CFF" stroke-width="1.2"/>
<line x1="546.5" x2="546.5" y1="353.4" y2="355.2" stroke="#619CFF" stroke-width="1.2"/>
<circle cx="538.2" cy="354.3" r="2.2" fill="#619CFF"/>
<text x="576.4" y="356.0" font-size="7" fill="#000">-0.049 (-0.061/-0.036)</text>
<line x1="514.1" x2="542.0" y1="375.7" y2="375.7" stroke="#00BA38" stroke-width="1.4"/>
<line x1="514.1" x2="514.1" y1="374.8" y2="376.6" stroke="#00BA38" stroke-width="1.2"/>
<line x1="542.0" x2="542.0" y1="374.8" y2="376.6" stroke="#00BA38" stroke-width="1.2"/>
<circle cx="528.1" cy="375.7" r="2.2" fill="#00BA38"/>
<text x="576.4" y="377.3" font-size="7" fill="#000">-0.065 (-0.087/-0.043)</text>
<text x="661.0" y="377.3" font-size="7" fill="#000">0.207</text>
<line x1="474.2" x2="517.9" y1="397.1" y2="397.1" stroke="#F8766D" stroke-width="1.4"/>
<line x1="474.2" x2="474.2" y1="396.2" y2="398.0" stroke="#F8766D" stroke-width="1.2"/>
<line x1="517.9" x2="517.9" y1="396.2" y2="398.0" stroke="#F8766D" stroke-width="1.2"/>
<circle cx="495.8" cy="397.1" r="2.2" fill="#F8766D"/>
<text x="576.4" y="398.7" font-size="7" fill="#000">-0.116 (-0.150/-0.081)</text>
<text x="661.0" y="399.9" font-size="7" fill="#000">0.0004</text>
<text x="608.1" y="336.2" text-anchor="middle" font-size="8.7" font-weight="bold" fill="#000">Beta (95% CI)</text>
<text x="654.8" y="336.2" font-size="8.7" font-weight="bold" fill="#000">p-value</text>
<rect x="0" y="428.0" width="104.6" height="14.4" fill="#D9D9D9"/>
<text x="52.3" y="438.2" text-anchor="middle" font-size="8.75" fill="#1A1A1A"><tspan font-weight="bold" font-style="italic">TWIST1</tspan> rs34895285-T</text>
<rect x="0" y="442.4" width="104.6" height="68.3" fill="#EBEBEB"/>
<line x1="12.4" x2="12.4" y1="442.4" y2="510.7" stroke="#fff" stroke-width="0.8"/>
<line x1="37.4" x2="37.4" y1="442.4" y2="510.7" stroke="#fff" stroke-width="0.8"/>
<line x1="62.5" x2="62.5" y1="442.4" y2="510.7" stroke="#fff" stroke-width="0.8"/>
<line x1="87.6" x2="87.6" y1="442.4" y2="510.7" stroke="#fff" stroke-width="0.8"/>
<line x1="24.9" x2="24.9" y1="442.4" y2="510.7" stroke="#fff" stroke-width="1.4"/>
<line x1="50.0" x2="50.0" y1="442.4" y2="510.7" stroke="#fff" stroke-width="1.4"/>
<line x1="75.0" x2="75.0" y1="442.4" y2="510.7" stroke="#fff" stroke-width="1.4"/>
<line x1="100.1" x2="100.1" y1="442.4" y2="510.7" stroke="#fff" stroke-width="1.4"/>
<line x1="0" x2="104.6" y1="455.1" y2="455.1" stroke="#fff" stroke-width="1.4"/>
<line x1="0" x2="104.6" y1="476.5" y2="476.5" stroke="#fff" stroke-width="1.4"/>
<line x1="0" x2="104.6" y1="497.9" y2="497.9" stroke="#fff" stroke-width="1.4"/>
<line x1="100.1" x2="100.1" y1="443.0" y2="511.7" stroke="#000" stroke-width="1.5"/>
<line x1="24.9" x2="24.9" y1="510.7" y2="512.7" stroke="#333" stroke-width="1.1"/>
<text x="22.8" y="519.2" text-anchor="middle" font-size="7.7" fill="#4D4D4D">−0.09</text>
<line x1="50.0" x2="50.0" y1="510.7" y2="512.7" stroke="#333" stroke-width="1.1"/>
<text x="47.7" y="519.2" text-anchor="middle" font-size="7.7" fill="#4D4D4D">−0.06</text>
<line x1="75.0" x2="75.0" y1="510.7" y2="512.7" stroke="#333" stroke-width="1.1"/>
<text x="72.5" y="519.2" text-anchor="middle" font-size="7.7" fill="#4D4D4D">−0.03</text>
<text x="97.3" y="519.2" text-anchor="middle" font-size="7.7" fill="#4D4D4D">0.00</text>
<line x1="52.5" x2="75.9" y1="455.1" y2="455.1" stroke="#619CFF" stroke-width="1.4"/>
<line x1="52.5" x2="52.5" y1="454.2" y2="456.0" stroke="#619CFF" stroke-width="1.2"/>
<line x1="75.9" x2="75.9" y1="454.2" y2="456.0" stroke="#619CFF" stroke-width="1.2"/>
<circle cx="64.2" cy="455.1" r="2.2" fill="#619CFF"/>
<text x="107.2" y="457.6" font-size="7" fill="#000">-0.043 (-0.057/-0.029)</text>
<line x1="36.6" x2="71.7" y1="476.5" y2="476.5" stroke="#00BA38" stroke-width="1.4"/>
<line x1="36.6" x2="36.6" y1="475.6" y2="477.4" stroke="#00BA38" stroke-width="1.2"/>
<line x1="71.7" x2="71.7" y1="475.6" y2="477.4" stroke="#00BA38" stroke-width="1.2"/>
<circle cx="54.1" cy="476.5" r="2.2" fill="#00BA38"/>
<text x="107.2" y="479.0" font-size="7" fill="#000">-0.055 (-0.076/-0.034)</text>
<text x="194.7" y="479.0" font-size="7" fill="#000">0.365</text>
<line x1="4.8" x2="60.0" y1="497.9" y2="497.9" stroke="#F8766D" stroke-width="1.4"/>
<line x1="4.8" x2="4.8" y1="497.0" y2="498.8" stroke="#F8766D" stroke-width="1.2"/>
<line x1="60.0" x2="60.0" y1="497.0" y2="498.8" stroke="#F8766D" stroke-width="1.2"/>
<circle cx="32.4" cy="497.9" r="2.2" fill="#F8766D"/>
<text x="107.2" y="500.4" font-size="7" fill="#000">-0.081 (-0.114/-0.048)</text>
<text x="194.7" y="500.4" font-size="7" fill="#000">0.041</text>
<text x="138.7" y="437.9" text-anchor="middle" font-size="8.7" font-weight="bold" fill="#000">Beta (95% CI)</text>
<text x="189.3" y="437.9" font-size="8.7" font-weight="bold" fill="#000">p-value</text>
<rect x="235.2" y="427.7" width="103.8" height="14.4" fill="#D9D9D9"/>
<text x="287.6" y="437.9" text-anchor="middle" font-size="8.75" fill="#1A1A1A"><tspan font-weight="bold" font-style="italic">IGFBP3</tspan> rs788747-G</text>
<rect x="235.2" y="442.1" width="103.8" height="68.3" fill="#EBEBEB"/>
<line x1="255.0" x2="255.0" y1="442.1" y2="510.4" stroke="#fff" stroke-width="0.8"/>
<line x1="285.6" x2="285.6" y1="442.1" y2="510.4" stroke="#fff" stroke-width="0.8"/>
<line x1="316.2" x2="316.2" y1="442.1" y2="510.4" stroke="#fff" stroke-width="0.8"/>
<line x1="239.7" x2="239.7" y1="442.1" y2="510.4" stroke="#fff" stroke-width="1.4"/>
<line x1="270.3" x2="270.3" y1="442.1" y2="510.4" stroke="#fff" stroke-width="1.4"/>
<line x1="300.9" x2="300.9" y1="442.1" y2="510.4" stroke="#fff" stroke-width="1.4"/>
<line x1="331.5" x2="331.5" y1="442.1" y2="510.4" stroke="#fff" stroke-width="1.4"/>
<line x1="235.2" x2="339.0" y1="454.8" y2="454.8" stroke="#fff" stroke-width="1.4"/>
<line x1="235.2" x2="339.0" y1="476.2" y2="476.2" stroke="#fff" stroke-width="1.4"/>
<line x1="235.2" x2="339.0" y1="497.6" y2="497.6" stroke="#fff" stroke-width="1.4"/>
<line x1="239.7" x2="239.7" y1="442.7" y2="511.4" stroke="#000" stroke-width="1.5"/>
<text x="241.4" y="518.9" text-anchor="middle" font-size="7.7" fill="#4D4D4D">0.00</text>
<line x1="270.3" x2="270.3" y1="510.4" y2="512.4" stroke="#333" stroke-width="1.1"/>
<text x="272.3" y="518.9" text-anchor="middle" font-size="7.7" fill="#4D4D4D">0.05</text>
<line x1="300.9" x2="300.9" y1="510.4" y2="512.4" stroke="#333" stroke-width="1.1"/>
<text x="302.7" y="518.9" text-anchor="middle" font-size="7.7" fill="#4D4D4D">0.10</text>
<line x1="331.5" x2="331.5" y1="510.4" y2="512.4" stroke="#333" stroke-width="1.1"/>
<text x="333.0" y="518.9" text-anchor="middle" font-size="7.7" fill="#4D4D4D">0.15</text>
<line x1="261.7" x2="276.4" y1="454.8" y2="454.8" stroke="#619CFF" stroke-width="1.4"/>
<line x1="261.7" x2="261.7" y1="453.9" y2="455.7" stroke="#619CFF" stroke-width="1.2"/>
<line x1="276.4" x2="276.4" y1="453.9" y2="455.7" stroke="#619CFF" stroke-width="1.2"/>
<circle cx="269.1" cy="454.8" r="2.2" fill="#619CFF"/>
<text x="342.7" y="457.3" font-size="7" fill="#000">0.048 (0.036/0.060)</text>
<line x1="261.1" x2="287.4" y1="476.2" y2="476.2" stroke="#00BA38" stroke-width="1.4"/>
<line x1="261.1" x2="261.1" y1="475.3" y2="477.1" stroke="#00BA38" stroke-width="1.2"/>
<line x1="287.4" x2="287.4" y1="475.3" y2="477.1" stroke="#00BA38" stroke-width="1.2"/>
<circle cx="274.6" cy="476.2" r="2.2" fill="#00BA38"/>
<text x="342.7" y="478.7" font-size="7" fill="#000">0.057 (0.035/0.078)</text>
<text x="425.0" y="478.7" font-size="7" fill="#000">0.489</text>
<line x1="294.8" x2="335.2" y1="497.6" y2="497.6" stroke="#F8766D" stroke-width="1.4"/>
<line x1="294.8" x2="294.8" y1="496.7" y2="498.5" stroke="#F8766D" stroke-width="1.2"/>
<line x1="335.2" x2="335.2" y1="496.7" y2="498.5" stroke="#F8766D" stroke-width="1.2"/>
<circle cx="315.0" cy="497.6" r="2.2" fill="#F8766D"/>
<text x="342.7" y="500.1" font-size="7" fill="#000">0.123 (0.090/0.156)</text>
<text x="425.0" y="500.1" font-size="7" fill="#000">0.00003</text>
<text x="373.5" y="437.6" text-anchor="middle" font-size="8.7" font-weight="bold" fill="#000">Beta (95% CI)</text>
<text x="420.2" y="437.6" font-size="8.7" font-weight="bold" fill="#000">p-value</text>
<rect x="469.8" y="427.7" width="104.2" height="14.4" fill="#D9D9D9"/>
<text x="521.9" y="437.9" text-anchor="middle" font-size="8.75" fill="#1A1A1A"><tspan font-weight="bold" font-style="italic">GSDMC</tspan> rs7814941-G</text>
<rect x="469.8" y="442.1" width="104.2" height="68.3" fill="#EBEBEB"/>
<line x1="491.9" x2="491.9" y1="442.1" y2="510.4" stroke="#fff" stroke-width="0.8"/>
<line x1="514.0" x2="514.0" y1="442.1" y2="510.4" stroke="#fff" stroke-width="0.8"/>
<line x1="536.1" x2="536.1" y1="442.1" y2="510.4" stroke="#fff" stroke-width="0.8"/>
<line x1="558.2" x2="558.2" y1="442.1" y2="510.4" stroke="#fff" stroke-width="0.8"/>
<line x1="480.9" x2="480.9" y1="442.1" y2="510.4" stroke="#fff" stroke-width="1.4"/>
<line x1="503.0" x2="503.0" y1="442.1" y2="510.4" stroke="#fff" stroke-width="1.4"/>
<line x1="525.1" x2="525.1" y1="442.1" y2="510.4" stroke="#fff" stroke-width="1.4"/>
<line x1="547.2" x2="547.2" y1="442.1" y2="510.4" stroke="#fff" stroke-width="1.4"/>
<line x1="569.3" x2="569.3" y1="442.1" y2="510.4" stroke="#fff" stroke-width="1.4"/>
<line x1="469.8" x2="574.0" y1="454.8" y2="454.8" stroke="#fff" stroke-width="1.4"/>
<line x1="469.8" x2="574.0" y1="476.2" y2="476.2" stroke="#fff" stroke-width="1.4"/>
<line x1="469.8" x2="574.0" y1="497.6" y2="497.6" stroke="#fff" stroke-width="1.4"/>
<line x1="569.3" x2="569.3" y1="442.7" y2="511.4" stroke="#000" stroke-width="1.5"/>
<line x1="480.9" x2="480.9" y1="510.4" y2="512.4" stroke="#333" stroke-width="1.1"/>
<text x="478.8" y="518.9" text-anchor="middle" font-size="7.7" fill="#4D4D4D">−0.20</text>
<line x1="503.0" x2="503.0" y1="510.4" y2="512.4" stroke="#333" stroke-width="1.1"/>
<text x="501.1" y="518.9" text-anchor="middle" font-size="7.7" fill="#4D4D4D">−0.15</text>
<line x1="525.1" x2="525.1" y1="510.4" y2="512.4" stroke="#333" stroke-width="1.1"/>
<text x="522.9" y="518.9" text-anchor="middle" font-size="7.7" fill="#4D4D4D">−0.10</text>
<line x1="547.2" x2="547.2" y1="510.4" y2="512.4" stroke="#333" stroke-width="1.1"/>
<text x="545.4" y="518.9" text-anchor="middle" font-size="7.7" fill="#4D4D4D">−0.05</text>
<text x="566.9" y="518.9" text-anchor="middle" font-size="7.7" fill="#4D4D4D">0.00</text>
<line x1="521.1" x2="534.8" y1="454.8" y2="454.8" stroke="#619CFF" stroke-width="1.4"/>
<line x1="521.1" x2="521.1" y1="453.9" y2="455.7" stroke="#619CFF" stroke-width="1.2"/>
<line x1="534.8" x2="534.8" y1="453.9" y2="455.7" stroke="#619CFF" stroke-width="1.2"/>
<circle cx="528.2" cy="454.8" r="2.2" fill="#619CFF"/>
<text x="576.4" y="457.3" font-size="7" fill="#000">-0.093 (-0.109/-0.078)</text>
<line x1="516.3" x2="541.0" y1="476.2" y2="476.2" stroke="#00BA38" stroke-width="1.4"/>
<line x1="516.3" x2="516.3" y1="475.3" y2="477.1" stroke="#00BA38" stroke-width="1.2"/>
<line x1="541.0" x2="541.0" y1="475.3" y2="477.1" stroke="#00BA38" stroke-width="1.2"/>
<circle cx="528.6" cy="476.2" r="2.2" fill="#00BA38"/>
<text x="576.4" y="478.7" font-size="7" fill="#000">-0.092 (-0.120/-0.064)</text>
<text x="661.0" y="478.7" font-size="7" fill="#000">0.959</text>
<line x1="474.3" x2="514.0" y1="497.6" y2="497.6" stroke="#F8766D" stroke-width="1.4"/>
<line x1="474.3" x2="474.3" y1="496.7" y2="498.5" stroke="#F8766D" stroke-width="1.2"/>
<line x1="514.0" x2="514.0" y1="496.7" y2="498.5" stroke="#F8766D" stroke-width="1.2"/>
<circle cx="494.2" cy="497.6" r="2.2" fill="#F8766D"/>
<text x="576.4" y="500.1" font-size="7" fill="#000">-0.170 (-0.215/-0.125)</text>
<text x="661.0" y="500.1" font-size="7" fill="#000">0.001</text>
<text x="608.1" y="437.6" text-anchor="middle" font-size="8.7" font-weight="bold" fill="#000">Beta (95% CI)</text>
<text x="654.8" y="437.6" font-size="8.7" font-weight="bold" fill="#000">p-value</text>
<rect x="0" y="529.0" width="104.4" height="14.4" fill="#D9D9D9"/>
<text x="53.7" y="539.2" text-anchor="middle" font-size="8.75" fill="#1A1A1A"><tspan font-weight="bold" font-style="italic">CHST3</tspan> rs4284322-C</text>
<rect x="0" y="543.4" width="104.4" height="68.3" fill="#EBEBEB"/>
<line x1="20.4" x2="20.4" y1="543.4" y2="611.7" stroke="#fff" stroke-width="0.8"/>
<line x1="51.0" x2="51.0" y1="543.4" y2="611.7" stroke="#fff" stroke-width="0.8"/>
<line x1="81.5" x2="81.5" y1="543.4" y2="611.7" stroke="#fff" stroke-width="0.8"/>
<line x1="5.2" x2="5.2" y1="543.4" y2="611.7" stroke="#fff" stroke-width="1.4"/>
<line x1="35.7" x2="35.7" y1="543.4" y2="611.7" stroke="#fff" stroke-width="1.4"/>
<line x1="66.2" x2="66.2" y1="543.4" y2="611.7" stroke="#fff" stroke-width="1.4"/>
<line x1="96.7" x2="96.7" y1="543.4" y2="611.7" stroke="#fff" stroke-width="1.4"/>
<line x1="0" x2="104.4" y1="556.1" y2="556.1" stroke="#fff" stroke-width="1.4"/>
<line x1="0" x2="104.4" y1="577.5" y2="577.5" stroke="#fff" stroke-width="1.4"/>
<line x1="0" x2="104.4" y1="598.9" y2="598.9" stroke="#fff" stroke-width="1.4"/>
<line x1="5.2" x2="5.2" y1="544.0" y2="612.7" stroke="#000" stroke-width="1.5"/>
<text x="7.4" y="620.2" text-anchor="middle" font-size="7.7" fill="#4D4D4D">0.00</text>
<line x1="35.7" x2="35.7" y1="611.7" y2="613.7" stroke="#333" stroke-width="1.1"/>
<text x="31.5" y="620.2" text-anchor="middle" font-size="7.7" fill="#4D4D4D">0.05</text>
<line x1="66.2" x2="66.2" y1="611.7" y2="613.7" stroke="#333" stroke-width="1.1"/>
<text x="62.2" y="620.2" text-anchor="middle" font-size="7.7" fill="#4D4D4D">0.10</text>
<line x1="96.7" x2="96.7" y1="611.7" y2="613.7" stroke="#333" stroke-width="1.1"/>
<text x="92.8" y="620.2" text-anchor="middle" font-size="7.7" fill="#4D4D4D">0.15</text>
<line x1="41.2" x2="55.8" y1="556.1" y2="556.1" stroke="#619CFF" stroke-width="1.4"/>
<line x1="41.2" x2="41.2" y1="555.2" y2="557.0" stroke="#619CFF" stroke-width="1.2"/>
<line x1="55.8" x2="55.8" y1="555.2" y2="557.0" stroke="#619CFF" stroke-width="1.2"/>
<circle cx="48.5" cy="556.1" r="2.2" fill="#619CFF"/>
<text x="107.2" y="558.6" font-size="7" fill="#000">0.071 (0.059/0.083)</text>
<line x1="36.3" x2="62.5" y1="577.5" y2="577.5" stroke="#00BA38" stroke-width="1.4"/>
<line x1="36.3" x2="36.3" y1="576.6" y2="578.4" stroke="#00BA38" stroke-width="1.2"/>
<line x1="62.5" x2="62.5" y1="576.6" y2="578.4" stroke="#00BA38" stroke-width="1.2"/>
<circle cx="49.1" cy="577.5" r="2.2" fill="#00BA38"/>
<text x="107.2" y="580.0" font-size="7" fill="#000">0.072 (0.051/0.094)</text>
<text x="194.7" y="580.0" font-size="7" fill="#000">0.925</text>
<line x1="58.9" x2="99.8" y1="598.9" y2="598.9" stroke="#F8766D" stroke-width="1.4"/>
<line x1="58.9" x2="58.9" y1="598.0" y2="599.8" stroke="#F8766D" stroke-width="1.2"/>
<line x1="99.8" x2="99.8" y1="598.0" y2="599.8" stroke="#F8766D" stroke-width="1.2"/>
<circle cx="79.6" cy="598.9" r="2.2" fill="#F8766D"/>
<text x="107.2" y="601.4" font-size="7" fill="#000">0.122 (0.088/0.155)</text>
<text x="194.7" y="601.4" font-size="7" fill="#000">0.005</text>
<text x="138.7" y="538.9" text-anchor="middle" font-size="8.7" font-weight="bold" fill="#000">Beta (95% CI)</text>
<text x="189.3" y="538.9" font-size="8.7" font-weight="bold" fill="#000">p-value</text>
<rect x="235.2" y="528.9" width="103.8" height="14.4" fill="#D9D9D9"/>
<text x="288.1" y="539.1" text-anchor="middle" font-size="8.75" fill="#1A1A1A"><tspan font-weight="bold" font-style="italic">SOX5</tspan> rs11831278-T</text>
<rect x="235.2" y="543.3" width="103.8" height="68.3" fill="#EBEBEB"/>
<line x1="253.1" x2="253.1" y1="543.3" y2="611.6" stroke="#fff" stroke-width="0.8"/>
<line x1="279.9" x2="279.9" y1="543.3" y2="611.6" stroke="#fff" stroke-width="0.8"/>
<line x1="306.7" x2="306.7" y1="543.3" y2="611.6" stroke="#fff" stroke-width="0.8"/>
<line x1="333.5" x2="333.5" y1="543.3" y2="611.6" stroke="#fff" stroke-width="0.8"/>
<line x1="239.7" x2="239.7" y1="543.3" y2="611.6" stroke="#fff" stroke-width="1.4"/>
<line x1="266.5" x2="266.5" y1="543.3" y2="611.6" stroke="#fff" stroke-width="1.4"/>
<line x1="293.3" x2="293.3" y1="543.3" y2="611.6" stroke="#fff" stroke-width="1.4"/>
<line x1="320.1" x2="320.1" y1="543.3" y2="611.6" stroke="#fff" stroke-width="1.4"/>
<line x1="235.2" x2="339.0" y1="556.0" y2="556.0" stroke="#fff" stroke-width="1.4"/>
<line x1="235.2" x2="339.0" y1="577.4" y2="577.4" stroke="#fff" stroke-width="1.4"/>
<line x1="235.2" x2="339.0" y1="598.8" y2="598.8" stroke="#fff" stroke-width="1.4"/>
<line x1="239.7" x2="239.7" y1="543.9" y2="612.6" stroke="#000" stroke-width="1.5"/>
<text x="241.4" y="620.1" text-anchor="middle" font-size="7.7" fill="#4D4D4D">0.00</text>
<line x1="266.5" x2="266.5" y1="611.6" y2="613.6" stroke="#333" stroke-width="1.1"/>
<text x="268.1" y="620.1" text-anchor="middle" font-size="7.7" fill="#4D4D4D">0.05</text>
<line x1="293.3" x2="293.3" y1="611.6" y2="613.6" stroke="#333" stroke-width="1.1"/>
<text x="294.5" y="620.1" text-anchor="middle" font-size="7.7" fill="#4D4D4D">0.10</text>
<line x1="320.1" x2="320.1" y1="611.6" y2="613.6" stroke="#333" stroke-width="1.1"/>
<text x="321.3" y="620.1" text-anchor="middle" font-size="7.7" fill="#4D4D4D">0.15</text>
<line x1="276.7" x2="293.8" y1="556.0" y2="556.0" stroke="#619CFF" stroke-width="1.4"/>
<line x1="276.7" x2="276.7" y1="555.1" y2="556.9" stroke="#619CFF" stroke-width="1.2"/>
<line x1="293.8" x2="293.8" y1="555.1" y2="556.9" stroke="#619CFF" stroke-width="1.2"/>
<circle cx="285.3" cy="556.0" r="2.2" fill="#619CFF"/>
<text x="342.7" y="558.5" font-size="7" fill="#000">0.085 (0.069/0.101)</text>
<line x1="267.0" x2="297.1" y1="577.4" y2="577.4" stroke="#00BA38" stroke-width="1.4"/>
<line x1="267.0" x2="267.0" y1="576.5" y2="578.3" stroke="#00BA38" stroke-width="1.2"/>
<line x1="297.1" x2="297.1" y1="576.5" y2="578.3" stroke="#00BA38" stroke-width="1.2"/>
<circle cx="282.0" cy="577.4" r="2.2" fill="#00BA38"/>
<text x="342.7" y="579.9" font-size="7" fill="#000">0.079 (0.051/0.107)</text>
<text x="425.0" y="579.9" font-size="7" fill="#000">0.705</text>
<line x1="287.9" x2="334.6" y1="598.8" y2="598.8" stroke="#F8766D" stroke-width="1.4"/>
<line x1="287.9" x2="287.9" y1="597.9" y2="599.7" stroke="#F8766D" stroke-width="1.2"/>
<line x1="334.6" x2="334.6" y1="597.9" y2="599.7" stroke="#F8766D" stroke-width="1.2"/>
<circle cx="311.5" cy="598.8" r="2.2" fill="#F8766D"/>
<text x="342.7" y="601.3" font-size="7" fill="#000">0.134 (0.090/0.177)</text>
<text x="425.0" y="601.3" font-size="7" fill="#000">0.041</text>
<text x="373.5" y="538.8" text-anchor="middle" font-size="8.7" font-weight="bold" fill="#000">Beta (95% CI)</text>
<text x="420.2" y="538.8" font-size="8.7" font-weight="bold" fill="#000">p-value</text>
<rect x="469.8" y="528.9" width="104.2" height="14.4" fill="#D9D9D9"/>
<text x="524.9" y="539.1" text-anchor="middle" font-size="8.75" fill="#1A1A1A"><tspan font-weight="bold" font-style="italic">GLI1</tspan> rs871871-A</text>
<rect x="469.8" y="543.3" width="104.2" height="68.3" fill="#EBEBEB"/>
<line x1="475.5" x2="475.5" y1="543.3" y2="611.6" stroke="#fff" stroke-width="0.8"/>
<line x1="513.0" x2="513.0" y1="543.3" y2="611.6" stroke="#fff" stroke-width="0.8"/>
<line x1="550.5" x2="550.5" y1="543.3" y2="611.6" stroke="#fff" stroke-width="0.8"/>
<line x1="494.3" x2="494.3" y1="543.3" y2="611.6" stroke="#fff" stroke-width="1.4"/>
<line x1="531.8" x2="531.8" y1="543.3" y2="611.6" stroke="#fff" stroke-width="1.4"/>
<line x1="569.3" x2="569.3" y1="543.3" y2="611.6" stroke="#fff" stroke-width="1.4"/>
<line x1="469.8" x2="574.0" y1="556.0" y2="556.0" stroke="#fff" stroke-width="1.4"/>
<line x1="469.8" x2="574.0" y1="577.4" y2="577.4" stroke="#fff" stroke-width="1.4"/>
<line x1="469.8" x2="574.0" y1="598.8" y2="598.8" stroke="#fff" stroke-width="1.4"/>
<line x1="569.3" x2="569.3" y1="543.9" y2="612.6" stroke="#000" stroke-width="1.5"/>
<line x1="494.3" x2="494.3" y1="611.6" y2="613.6" stroke="#333" stroke-width="1.1"/>
<text x="491.8" y="620.1" text-anchor="middle" font-size="7.7" fill="#4D4D4D">−0.10</text>
<line x1="531.8" x2="531.8" y1="611.6" y2="613.6" stroke="#333" stroke-width="1.1"/>
<text x="529.4" y="620.1" text-anchor="middle" font-size="7.7" fill="#4D4D4D">−0.05</text>
<text x="566.6" y="620.1" text-anchor="middle" font-size="7.7" fill="#4D4D4D">0.00</text>
<line x1="531.8" x2="549.8" y1="556.0" y2="556.0" stroke="#619CFF" stroke-width="1.4"/>
<line x1="531.8" x2="531.8" y1="555.1" y2="556.9" stroke="#619CFF" stroke-width="1.2"/>
<line x1="549.8" x2="549.8" y1="555.1" y2="556.9" stroke="#619CFF" stroke-width="1.2"/>
<circle cx="540.8" cy="556.0" r="2.2" fill="#619CFF"/>
<text x="576.4" y="558.5" font-size="7" fill="#000">-0.038 (-0.050/-0.026)</text>
<line x1="509.3" x2="542.3" y1="577.4" y2="577.4" stroke="#00BA38" stroke-width="1.4"/>
<line x1="509.3" x2="509.3" y1="576.5" y2="578.3" stroke="#00BA38" stroke-width="1.2"/>
<line x1="542.3" x2="542.3" y1="576.5" y2="578.3" stroke="#00BA38" stroke-width="1.2"/>
<circle cx="525.8" cy="577.4" r="2.2" fill="#00BA38"/>
<text x="576.4" y="579.9" font-size="7" fill="#000">-0.058 (-0.080/-0.036)</text>
<text x="661.0" y="579.9" font-size="7" fill="#000">0.123</text>
<line x1="474.8" x2="525.8" y1="598.8" y2="598.8" stroke="#F8766D" stroke-width="1.4"/>
<line x1="474.8" x2="474.8" y1="597.9" y2="599.7" stroke="#F8766D" stroke-width="1.2"/>
<line x1="525.8" x2="525.8" y1="597.9" y2="599.7" stroke="#F8766D" stroke-width="1.2"/>
<circle cx="500.3" cy="598.8" r="2.2" fill="#F8766D"/>
<text x="576.4" y="601.3" font-size="7" fill="#000">-0.092 (-0.126/-0.058)</text>
<text x="661.0" y="601.3" font-size="7" fill="#000">0.004</text>
<text x="608.1" y="538.8" text-anchor="middle" font-size="8.7" font-weight="bold" fill="#000">Beta (95% CI)</text>
<text x="654.8" y="538.8" font-size="8.7" font-weight="bold" fill="#000">p-value</text>
<line x1="181.3" x2="181.3" y1="328.4" y2="607.4" stroke="#222" stroke-width="1.2"/>
<line x1="412.2" x2="412.2" y1="328.4" y2="607.4" stroke="#222" stroke-width="1.2"/>
<line x1="647.1" x2="647.1" y1="328.4" y2="607.4" stroke="#222" stroke-width="1.2"/>
<text x="277.4" y="636.8" font-size="9" font-weight="bold" fill="#000">Group</text>
<rect x="308.5" y="627.4" width="15.6" height="15" fill="#EBEBEB"/>
<line x1="310.0" x2="322.6" y1="633.8" y2="633.8" stroke="#619CFF" stroke-width="1.4"/>
<circle cx="316.3" cy="633.8" r="2" fill="#619CFF"/>
<rect x="347.0" y="627.4" width="15.6" height="15" fill="#EBEBEB"/>
<line x1="348.5" x2="361.1" y1="633.8" y2="633.8" stroke="#00BA38" stroke-width="1.4"/>
<circle cx="354.8" cy="633.8" r="2" fill="#00BA38"/>
<rect x="387.9" y="627.4" width="15.6" height="15" fill="#EBEBEB"/>
<line x1="389.4" x2="402.0" y1="633.8" y2="633.8" stroke="#F8766D" stroke-width="1.4"/>
<circle cx="395.7" cy="633.8" r="2" fill="#F8766D"/>
<text x="326.4" y="636.5" font-size="7.6" fill="#000">Meta</text>
<text x="363.6" y="636.5" font-size="7.6" fill="#000">M51.1</text>
<text x="420.4" y="632.9" text-anchor="middle" font-size="7.6" fill="#000">Surgical</text>
<text x="420.4" y="642.4" text-anchor="middle" font-size="7.6" fill="#000">GWAS</text>
</svg>
</body></html>
